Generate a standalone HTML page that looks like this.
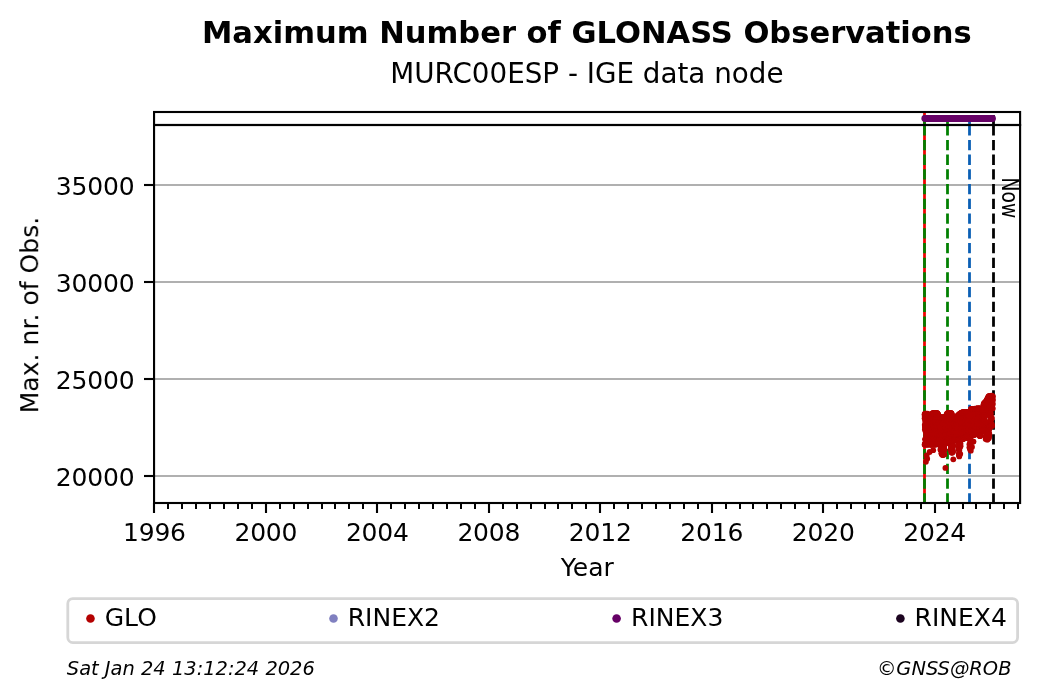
<!DOCTYPE html>
<html lang="en"><head><meta charset="utf-8"><title>Maximum Number of GLONASS Observations - MURC00ESP</title>
<style>html,body{margin:0;padding:0;background:#fff}body{width:1040px;height:699px;overflow:hidden}svg{display:block}text{font-family:"DejaVu Sans","Liberation Sans",sans-serif;fill:#000}.cond{font-family:"DejaVu Sans Condensed","DejaVu Sans","Liberation Sans",sans-serif;font-stretch:condensed}</style></head><body>
<svg width="1040" height="699" viewBox="0 0 1040 699">
<rect width="1040" height="699" fill="#fff"/>
<g opacity="0.999">
<text x="586.85" y="43.1" font-size="30.556" font-weight="bold" text-anchor="middle">Maximum Number of GLONASS Observations</text>
<text x="586.9" y="82.8" font-size="27.778" text-anchor="middle">MURC00ESP - IGE data node</text>
<g stroke="#b0b0b0" stroke-width="2.1">
<line x1="154.05" x2="1020.1" y1="476.00" y2="476.00"/>
<line x1="154.05" x2="1020.1" y1="379.00" y2="379.00"/>
<line x1="154.05" x2="1020.1" y1="282.00" y2="282.00"/>
<line x1="154.05" x2="1020.1" y1="185.00" y2="185.00"/>
</g>
<g fill="none" stroke-width="2.78">
<line x1="924.5" x2="924.5" y1="503.45" y2="125.0" stroke="#f00000"/>
<line x1="924.5" x2="924.5" y1="503.45" y2="125.0" stroke="#008000" stroke-dasharray="10.28 4.44"/>
<line x1="947.5" x2="947.5" y1="503.45" y2="125.0" stroke="#008000" stroke-dasharray="10.28 4.44"/>
<line x1="969.5" x2="969.5" y1="503.45" y2="125.0" stroke="#0a5fb4" stroke-dasharray="10.28 4.44"/>
<line x1="993.5" x2="993.5" y1="503.45" y2="125.0" stroke="#000" stroke-dasharray="10.28 4.44"/>
<line x1="924.5" x2="924.5" y1="125.0" y2="112.0" stroke="#f00000"/>
<line x1="924.5" x2="924.5" y1="125.0" y2="112.0" stroke="#008000" stroke-dasharray="9.9 4.44"/>
<line x1="947.5" x2="947.5" y1="125.0" y2="112.0" stroke="#008000" stroke-dasharray="9.9 4.44"/>
<line x1="969.5" x2="969.5" y1="125.0" y2="112.0" stroke="#0a5fb4" stroke-dasharray="9.9 4.44"/>
<line x1="993.5" x2="993.5" y1="125.0" y2="112.0" stroke="#000" stroke-dasharray="9.9 4.44"/>
</g>
<g fill="#b40000">
<circle cx="924.60" cy="418.35" r="2.9"/><circle cx="924.68" cy="415.90" r="2.9"/><circle cx="924.75" cy="424.99" r="2.9"/><circle cx="924.83" cy="429.38" r="2.9"/><circle cx="924.90" cy="427.08" r="2.9"/><circle cx="924.98" cy="416.42" r="2.9"/><circle cx="925.05" cy="439.28" r="2.9"/><circle cx="925.13" cy="420.53" r="2.9"/><circle cx="925.20" cy="443.03" r="2.9"/><circle cx="925.28" cy="425.92" r="2.9"/><circle cx="925.35" cy="415.05" r="2.9"/><circle cx="925.43" cy="422.59" r="2.9"/><circle cx="925.50" cy="417.26" r="2.9"/><circle cx="925.58" cy="438.94" r="2.9"/><circle cx="925.65" cy="431.66" r="2.9"/><circle cx="925.73" cy="425.16" r="2.9"/><circle cx="925.80" cy="415.55" r="2.9"/><circle cx="925.88" cy="419.99" r="2.9"/><circle cx="925.95" cy="426.88" r="2.9"/><circle cx="926.03" cy="431.78" r="2.9"/><circle cx="926.10" cy="422.91" r="2.9"/><circle cx="926.18" cy="435.30" r="2.9"/><circle cx="926.25" cy="431.43" r="2.9"/><circle cx="926.33" cy="440.77" r="2.9"/><circle cx="926.40" cy="422.54" r="2.9"/><circle cx="926.48" cy="417.26" r="2.9"/><circle cx="926.56" cy="437.10" r="2.9"/><circle cx="926.63" cy="428.78" r="2.9"/><circle cx="926.71" cy="434.34" r="2.9"/><circle cx="926.78" cy="431.39" r="2.9"/><circle cx="926.86" cy="423.34" r="2.9"/><circle cx="926.93" cy="432.05" r="2.9"/><circle cx="927.01" cy="427.76" r="2.9"/><circle cx="927.08" cy="442.92" r="2.9"/><circle cx="927.16" cy="434.21" r="2.9"/><circle cx="927.23" cy="435.37" r="2.9"/><circle cx="927.31" cy="444.42" r="2.9"/><circle cx="927.38" cy="422.43" r="2.9"/><circle cx="927.46" cy="434.35" r="2.9"/><circle cx="927.53" cy="427.95" r="2.9"/><circle cx="927.61" cy="417.35" r="2.9"/><circle cx="927.68" cy="437.49" r="2.9"/><circle cx="927.76" cy="421.52" r="2.9"/><circle cx="927.83" cy="440.69" r="2.9"/><circle cx="927.91" cy="427.81" r="2.9"/><circle cx="927.98" cy="441.07" r="2.9"/><circle cx="928.06" cy="440.49" r="2.9"/><circle cx="928.13" cy="426.93" r="2.9"/><circle cx="928.21" cy="441.13" r="2.9"/><circle cx="928.28" cy="419.08" r="2.9"/><circle cx="928.36" cy="421.59" r="2.9"/><circle cx="928.43" cy="429.22" r="2.9"/><circle cx="928.51" cy="422.64" r="2.9"/><circle cx="928.59" cy="427.35" r="2.9"/><circle cx="928.66" cy="431.77" r="2.9"/><circle cx="928.74" cy="435.47" r="2.9"/><circle cx="928.81" cy="433.35" r="2.9"/><circle cx="928.89" cy="416.85" r="2.9"/><circle cx="928.96" cy="438.17" r="2.9"/><circle cx="929.04" cy="438.71" r="2.9"/><circle cx="929.11" cy="427.05" r="2.9"/><circle cx="929.19" cy="433.93" r="2.9"/><circle cx="929.26" cy="417.37" r="2.9"/><circle cx="929.34" cy="420.14" r="2.9"/><circle cx="929.41" cy="416.94" r="2.9"/><circle cx="929.49" cy="419.82" r="2.9"/><circle cx="929.56" cy="426.02" r="2.9"/><circle cx="929.64" cy="440.93" r="2.9"/><circle cx="929.71" cy="419.74" r="2.9"/><circle cx="929.79" cy="425.54" r="2.9"/><circle cx="929.86" cy="418.99" r="2.9"/><circle cx="929.94" cy="444.40" r="2.9"/><circle cx="930.01" cy="429.53" r="2.9"/><circle cx="930.09" cy="418.38" r="2.9"/><circle cx="930.16" cy="423.13" r="2.9"/><circle cx="930.24" cy="420.11" r="2.9"/><circle cx="930.31" cy="443.16" r="2.9"/><circle cx="930.39" cy="419.68" r="2.9"/><circle cx="930.47" cy="416.19" r="2.9"/><circle cx="930.54" cy="443.96" r="2.9"/><circle cx="930.62" cy="435.72" r="2.9"/><circle cx="930.69" cy="426.10" r="2.9"/><circle cx="930.77" cy="437.93" r="2.9"/><circle cx="930.84" cy="438.14" r="2.9"/><circle cx="930.92" cy="421.91" r="2.9"/><circle cx="930.99" cy="444.15" r="2.9"/><circle cx="931.07" cy="438.90" r="2.9"/><circle cx="931.14" cy="436.93" r="2.9"/><circle cx="931.22" cy="430.34" r="2.9"/><circle cx="931.29" cy="415.79" r="2.9"/><circle cx="931.37" cy="423.13" r="2.9"/><circle cx="931.44" cy="435.39" r="2.9"/><circle cx="931.52" cy="427.99" r="2.9"/><circle cx="931.59" cy="444.22" r="2.9"/><circle cx="931.67" cy="425.36" r="2.9"/><circle cx="931.74" cy="421.10" r="2.9"/><circle cx="931.82" cy="420.32" r="2.9"/><circle cx="931.89" cy="441.52" r="2.9"/><circle cx="931.97" cy="428.58" r="2.9"/><circle cx="932.04" cy="438.39" r="2.9"/><circle cx="932.12" cy="434.06" r="2.9"/><circle cx="932.19" cy="437.80" r="2.9"/><circle cx="932.27" cy="428.28" r="2.9"/><circle cx="932.35" cy="437.96" r="2.9"/><circle cx="932.42" cy="438.31" r="2.9"/><circle cx="932.50" cy="425.50" r="2.9"/><circle cx="932.57" cy="442.89" r="2.9"/><circle cx="932.65" cy="418.37" r="2.9"/><circle cx="932.72" cy="417.77" r="2.9"/><circle cx="932.80" cy="438.46" r="2.9"/><circle cx="932.87" cy="439.09" r="2.9"/><circle cx="932.95" cy="433.74" r="2.9"/><circle cx="933.02" cy="430.32" r="2.9"/><circle cx="933.10" cy="413.45" r="2.9"/><circle cx="933.17" cy="433.50" r="2.9"/><circle cx="933.25" cy="442.46" r="2.9"/><circle cx="933.32" cy="440.51" r="2.9"/><circle cx="933.40" cy="419.66" r="2.9"/><circle cx="933.47" cy="422.24" r="2.9"/><circle cx="933.55" cy="431.50" r="2.9"/><circle cx="933.62" cy="426.22" r="2.9"/><circle cx="933.70" cy="441.71" r="2.9"/><circle cx="933.77" cy="427.46" r="2.9"/><circle cx="933.85" cy="441.53" r="2.9"/><circle cx="933.92" cy="441.95" r="2.9"/><circle cx="934.00" cy="429.78" r="2.9"/><circle cx="934.07" cy="413.59" r="2.9"/><circle cx="934.15" cy="418.78" r="2.9"/><circle cx="934.22" cy="438.21" r="2.9"/><circle cx="934.30" cy="427.94" r="2.9"/><circle cx="934.38" cy="430.55" r="2.9"/><circle cx="934.45" cy="429.35" r="2.9"/><circle cx="934.53" cy="437.74" r="2.9"/><circle cx="934.60" cy="430.67" r="2.9"/><circle cx="934.68" cy="421.73" r="2.9"/><circle cx="934.75" cy="429.01" r="2.9"/><circle cx="934.83" cy="436.97" r="2.9"/><circle cx="934.90" cy="426.98" r="2.9"/><circle cx="934.98" cy="428.94" r="2.9"/><circle cx="935.05" cy="434.85" r="2.9"/><circle cx="935.13" cy="429.82" r="2.9"/><circle cx="935.20" cy="442.69" r="2.9"/><circle cx="935.28" cy="440.64" r="2.9"/><circle cx="935.35" cy="421.19" r="2.9"/><circle cx="935.43" cy="442.74" r="2.9"/><circle cx="935.50" cy="417.32" r="2.9"/><circle cx="935.58" cy="426.94" r="2.9"/><circle cx="935.65" cy="420.59" r="2.9"/><circle cx="935.73" cy="434.11" r="2.9"/><circle cx="935.80" cy="441.28" r="2.9"/><circle cx="935.88" cy="435.58" r="2.9"/><circle cx="935.95" cy="417.51" r="2.9"/><circle cx="936.03" cy="443.50" r="2.9"/><circle cx="936.10" cy="443.03" r="2.9"/><circle cx="936.18" cy="428.36" r="2.9"/><circle cx="936.26" cy="439.24" r="2.9"/><circle cx="936.33" cy="426.60" r="2.9"/><circle cx="936.41" cy="423.69" r="2.9"/><circle cx="936.48" cy="423.04" r="2.9"/><circle cx="936.56" cy="413.61" r="2.9"/><circle cx="936.63" cy="426.88" r="2.9"/><circle cx="936.71" cy="423.45" r="2.9"/><circle cx="936.78" cy="429.14" r="2.9"/><circle cx="936.86" cy="444.04" r="2.9"/><circle cx="936.93" cy="443.62" r="2.9"/><circle cx="937.01" cy="421.37" r="2.9"/><circle cx="937.08" cy="437.55" r="2.9"/><circle cx="937.16" cy="417.08" r="2.9"/><circle cx="937.23" cy="441.72" r="2.9"/><circle cx="937.31" cy="421.15" r="2.9"/><circle cx="937.38" cy="441.96" r="2.9"/><circle cx="937.46" cy="435.07" r="2.9"/><circle cx="937.53" cy="414.89" r="2.9"/><circle cx="937.61" cy="426.55" r="2.9"/><circle cx="937.68" cy="442.59" r="2.9"/><circle cx="937.76" cy="438.37" r="2.9"/><circle cx="937.83" cy="440.09" r="2.9"/><circle cx="937.91" cy="440.31" r="2.9"/><circle cx="937.98" cy="424.43" r="2.9"/><circle cx="938.06" cy="442.28" r="2.9"/><circle cx="938.14" cy="418.36" r="2.9"/><circle cx="938.21" cy="421.76" r="2.9"/><circle cx="938.29" cy="419.61" r="2.9"/><circle cx="938.36" cy="420.95" r="2.9"/><circle cx="938.44" cy="424.10" r="2.9"/><circle cx="938.51" cy="423.78" r="2.9"/><circle cx="938.59" cy="420.67" r="2.9"/><circle cx="938.66" cy="416.23" r="2.9"/><circle cx="938.74" cy="416.32" r="2.9"/><circle cx="938.81" cy="431.65" r="2.9"/><circle cx="938.89" cy="429.58" r="2.9"/><circle cx="938.96" cy="419.38" r="2.9"/><circle cx="939.04" cy="428.57" r="2.9"/><circle cx="939.11" cy="439.75" r="2.9"/><circle cx="939.19" cy="430.80" r="2.9"/><circle cx="939.26" cy="443.80" r="2.9"/><circle cx="939.34" cy="439.73" r="2.9"/><circle cx="939.41" cy="434.40" r="2.9"/><circle cx="939.49" cy="426.60" r="2.9"/><circle cx="939.56" cy="420.71" r="2.9"/><circle cx="939.64" cy="437.21" r="2.9"/><circle cx="939.71" cy="421.61" r="2.9"/><circle cx="939.79" cy="439.90" r="2.9"/><circle cx="939.86" cy="435.29" r="2.9"/><circle cx="939.94" cy="423.73" r="2.9"/><circle cx="940.01" cy="429.58" r="2.9"/><circle cx="940.09" cy="429.21" r="2.9"/><circle cx="940.17" cy="443.09" r="2.9"/><circle cx="940.24" cy="431.92" r="2.9"/><circle cx="940.32" cy="443.17" r="2.9"/><circle cx="940.39" cy="426.79" r="2.9"/><circle cx="940.47" cy="427.45" r="2.9"/><circle cx="940.54" cy="449.66" r="2.9"/><circle cx="940.62" cy="449.67" r="2.9"/><circle cx="940.69" cy="446.98" r="2.9"/><circle cx="940.77" cy="448.48" r="2.9"/><circle cx="940.84" cy="444.25" r="2.9"/><circle cx="940.92" cy="446.60" r="2.9"/><circle cx="940.99" cy="449.92" r="2.9"/><circle cx="941.07" cy="434.80" r="2.9"/><circle cx="941.14" cy="440.72" r="2.9"/><circle cx="941.22" cy="447.61" r="2.9"/><circle cx="941.29" cy="421.19" r="2.9"/><circle cx="941.37" cy="434.38" r="2.9"/><circle cx="941.44" cy="453.34" r="2.9"/><circle cx="941.52" cy="433.94" r="2.9"/><circle cx="941.59" cy="438.86" r="2.9"/><circle cx="941.67" cy="449.80" r="2.9"/><circle cx="941.74" cy="453.33" r="2.9"/><circle cx="941.82" cy="439.21" r="2.9"/><circle cx="941.89" cy="453.98" r="2.9"/><circle cx="941.97" cy="435.65" r="2.9"/><circle cx="942.05" cy="444.15" r="2.9"/><circle cx="942.12" cy="447.90" r="2.9"/><circle cx="942.20" cy="453.32" r="2.9"/><circle cx="942.27" cy="450.94" r="2.9"/><circle cx="942.35" cy="435.26" r="2.9"/><circle cx="942.42" cy="443.76" r="2.9"/><circle cx="942.50" cy="437.04" r="2.9"/><circle cx="942.57" cy="449.85" r="2.9"/><circle cx="942.65" cy="418.95" r="2.9"/><circle cx="942.72" cy="423.88" r="2.9"/><circle cx="942.80" cy="446.72" r="2.9"/><circle cx="942.87" cy="422.63" r="2.9"/><circle cx="942.95" cy="442.99" r="2.9"/><circle cx="943.02" cy="448.05" r="2.9"/><circle cx="943.10" cy="451.53" r="2.9"/><circle cx="943.17" cy="433.48" r="2.9"/><circle cx="943.25" cy="419.24" r="2.9"/><circle cx="943.32" cy="446.52" r="2.9"/><circle cx="943.40" cy="425.22" r="2.9"/><circle cx="943.47" cy="443.69" r="2.9"/><circle cx="943.55" cy="446.67" r="2.9"/><circle cx="943.62" cy="435.42" r="2.9"/><circle cx="943.70" cy="424.85" r="2.9"/><circle cx="943.77" cy="448.93" r="2.9"/><circle cx="943.85" cy="444.87" r="2.9"/><circle cx="943.93" cy="422.43" r="2.9"/><circle cx="944.00" cy="441.78" r="2.9"/><circle cx="944.08" cy="448.84" r="2.9"/><circle cx="944.15" cy="442.59" r="2.9"/><circle cx="944.23" cy="446.58" r="2.9"/><circle cx="944.30" cy="454.56" r="2.9"/><circle cx="944.38" cy="450.25" r="2.9"/><circle cx="944.45" cy="449.57" r="2.9"/><circle cx="944.53" cy="420.67" r="2.9"/><circle cx="944.60" cy="430.50" r="2.9"/><circle cx="944.68" cy="435.58" r="2.9"/><circle cx="944.75" cy="440.65" r="2.9"/><circle cx="944.83" cy="417.85" r="2.9"/><circle cx="944.90" cy="430.03" r="2.9"/><circle cx="944.98" cy="425.07" r="2.9"/><circle cx="945.05" cy="426.17" r="2.9"/><circle cx="945.13" cy="439.09" r="2.9"/><circle cx="945.20" cy="436.75" r="2.9"/><circle cx="945.28" cy="420.32" r="2.9"/><circle cx="945.35" cy="435.75" r="2.9"/><circle cx="945.43" cy="424.69" r="2.9"/><circle cx="945.50" cy="427.26" r="2.9"/><circle cx="945.58" cy="432.33" r="2.9"/><circle cx="945.65" cy="427.96" r="2.9"/><circle cx="945.73" cy="417.70" r="2.9"/><circle cx="945.80" cy="438.69" r="2.9"/><circle cx="945.88" cy="441.38" r="2.9"/><circle cx="945.96" cy="423.11" r="2.9"/><circle cx="946.03" cy="420.90" r="2.9"/><circle cx="946.11" cy="441.86" r="2.9"/><circle cx="946.18" cy="437.84" r="2.9"/><circle cx="946.26" cy="440.62" r="2.9"/><circle cx="946.33" cy="430.37" r="2.9"/><circle cx="946.41" cy="416.19" r="2.9"/><circle cx="946.48" cy="427.40" r="2.9"/><circle cx="946.56" cy="432.81" r="2.9"/><circle cx="946.63" cy="415.66" r="2.9"/><circle cx="946.71" cy="417.75" r="2.9"/><circle cx="946.78" cy="423.86" r="2.9"/><circle cx="946.86" cy="435.26" r="2.9"/><circle cx="946.93" cy="421.16" r="2.9"/><circle cx="947.01" cy="422.22" r="2.9"/><circle cx="947.08" cy="424.86" r="2.9"/><circle cx="947.16" cy="417.81" r="2.9"/><circle cx="947.23" cy="439.95" r="2.9"/><circle cx="947.31" cy="419.46" r="2.9"/><circle cx="947.38" cy="442.61" r="2.9"/><circle cx="947.46" cy="417.06" r="2.9"/><circle cx="947.53" cy="415.60" r="2.9"/><circle cx="947.61" cy="415.61" r="2.9"/><circle cx="947.68" cy="420.58" r="2.9"/><circle cx="947.76" cy="439.26" r="2.9"/><circle cx="947.84" cy="425.16" r="2.9"/><circle cx="947.91" cy="428.45" r="2.9"/><circle cx="947.99" cy="422.93" r="2.9"/><circle cx="948.06" cy="421.12" r="2.9"/><circle cx="948.14" cy="416.63" r="2.9"/><circle cx="948.21" cy="431.53" r="2.9"/><circle cx="948.29" cy="419.28" r="2.9"/><circle cx="948.36" cy="420.24" r="2.9"/><circle cx="948.44" cy="426.06" r="2.9"/><circle cx="948.51" cy="437.94" r="2.9"/><circle cx="948.59" cy="413.54" r="2.9"/><circle cx="948.66" cy="433.80" r="2.9"/><circle cx="948.74" cy="426.83" r="2.9"/><circle cx="948.81" cy="412.91" r="2.9"/><circle cx="948.89" cy="440.15" r="2.9"/><circle cx="948.96" cy="438.03" r="2.9"/><circle cx="949.04" cy="420.19" r="2.9"/><circle cx="949.11" cy="417.43" r="2.9"/><circle cx="949.19" cy="432.89" r="2.9"/><circle cx="949.26" cy="434.04" r="2.9"/><circle cx="949.34" cy="435.29" r="2.9"/><circle cx="949.41" cy="429.03" r="2.9"/><circle cx="949.49" cy="435.77" r="2.9"/><circle cx="949.56" cy="439.77" r="2.9"/><circle cx="949.64" cy="421.77" r="2.9"/><circle cx="949.72" cy="420.24" r="2.9"/><circle cx="949.79" cy="433.26" r="2.9"/><circle cx="949.87" cy="414.95" r="2.9"/><circle cx="949.94" cy="429.87" r="2.9"/><circle cx="950.02" cy="419.40" r="2.9"/><circle cx="950.09" cy="413.20" r="2.9"/><circle cx="950.17" cy="426.28" r="2.9"/><circle cx="950.24" cy="431.61" r="2.9"/><circle cx="950.32" cy="426.68" r="2.9"/><circle cx="950.39" cy="444.58" r="2.9"/><circle cx="950.47" cy="433.31" r="2.9"/><circle cx="950.54" cy="442.08" r="2.9"/><circle cx="950.62" cy="449.22" r="2.9"/><circle cx="950.69" cy="444.63" r="2.9"/><circle cx="950.77" cy="439.61" r="2.9"/><circle cx="950.84" cy="442.13" r="2.9"/><circle cx="950.92" cy="446.39" r="2.9"/><circle cx="950.99" cy="418.61" r="2.9"/><circle cx="951.07" cy="434.18" r="2.9"/><circle cx="951.14" cy="443.96" r="2.9"/><circle cx="951.22" cy="421.86" r="2.9"/><circle cx="951.29" cy="419.53" r="2.9"/><circle cx="951.37" cy="450.12" r="2.9"/><circle cx="951.44" cy="452.26" r="2.9"/><circle cx="951.52" cy="443.67" r="2.9"/><circle cx="951.59" cy="446.24" r="2.9"/><circle cx="951.67" cy="440.09" r="2.9"/><circle cx="951.75" cy="445.95" r="2.9"/><circle cx="951.82" cy="452.51" r="2.9"/><circle cx="951.90" cy="442.05" r="2.9"/><circle cx="951.97" cy="445.91" r="2.9"/><circle cx="952.05" cy="438.37" r="2.9"/><circle cx="952.12" cy="441.34" r="2.9"/><circle cx="952.20" cy="424.22" r="2.9"/><circle cx="952.27" cy="452.07" r="2.9"/><circle cx="952.35" cy="417.22" r="2.9"/><circle cx="952.42" cy="426.05" r="2.9"/><circle cx="952.50" cy="445.11" r="2.9"/><circle cx="952.57" cy="441.31" r="2.9"/><circle cx="952.65" cy="445.31" r="2.9"/><circle cx="952.72" cy="420.79" r="2.9"/><circle cx="952.80" cy="422.73" r="2.9"/><circle cx="952.87" cy="450.73" r="2.9"/><circle cx="952.95" cy="427.96" r="2.9"/><circle cx="953.02" cy="446.67" r="2.9"/><circle cx="953.10" cy="451.86" r="2.9"/><circle cx="953.17" cy="445.37" r="2.9"/><circle cx="953.25" cy="418.60" r="2.9"/><circle cx="953.32" cy="436.71" r="2.9"/><circle cx="953.40" cy="418.84" r="2.9"/><circle cx="953.47" cy="419.35" r="2.9"/><circle cx="953.55" cy="423.84" r="2.9"/><circle cx="953.63" cy="438.64" r="2.9"/><circle cx="953.70" cy="424.18" r="2.9"/><circle cx="953.78" cy="432.12" r="2.9"/><circle cx="953.85" cy="434.40" r="2.9"/><circle cx="953.93" cy="424.24" r="2.9"/><circle cx="954.00" cy="435.26" r="2.9"/><circle cx="954.08" cy="432.45" r="2.9"/><circle cx="954.15" cy="418.46" r="2.9"/><circle cx="954.23" cy="428.79" r="2.9"/><circle cx="954.30" cy="439.74" r="2.9"/><circle cx="954.38" cy="423.64" r="2.9"/><circle cx="954.45" cy="429.18" r="2.9"/><circle cx="954.53" cy="422.08" r="2.9"/><circle cx="954.60" cy="434.75" r="2.9"/><circle cx="954.68" cy="435.51" r="2.9"/><circle cx="954.75" cy="425.36" r="2.9"/><circle cx="954.83" cy="426.13" r="2.9"/><circle cx="954.90" cy="419.70" r="2.9"/><circle cx="954.98" cy="434.99" r="2.9"/><circle cx="955.05" cy="419.37" r="2.9"/><circle cx="955.13" cy="430.43" r="2.9"/><circle cx="955.20" cy="440.11" r="2.9"/><circle cx="955.28" cy="440.27" r="2.9"/><circle cx="955.35" cy="419.80" r="2.9"/><circle cx="955.43" cy="429.18" r="2.9"/><circle cx="955.51" cy="428.00" r="2.9"/><circle cx="955.58" cy="427.32" r="2.9"/><circle cx="955.66" cy="433.12" r="2.9"/><circle cx="955.73" cy="437.01" r="2.9"/><circle cx="955.81" cy="420.63" r="2.9"/><circle cx="955.88" cy="424.52" r="2.9"/><circle cx="955.96" cy="426.30" r="2.9"/><circle cx="956.03" cy="422.38" r="2.9"/><circle cx="956.11" cy="423.42" r="2.9"/><circle cx="956.18" cy="437.77" r="2.9"/><circle cx="956.26" cy="425.23" r="2.9"/><circle cx="956.33" cy="440.18" r="2.9"/><circle cx="956.41" cy="423.08" r="2.9"/><circle cx="956.48" cy="432.49" r="2.9"/><circle cx="956.56" cy="419.90" r="2.9"/><circle cx="956.63" cy="436.16" r="2.9"/><circle cx="956.71" cy="438.31" r="2.9"/><circle cx="956.78" cy="423.90" r="2.9"/><circle cx="956.86" cy="421.36" r="2.9"/><circle cx="956.93" cy="430.46" r="2.9"/><circle cx="957.01" cy="425.41" r="2.9"/><circle cx="957.08" cy="427.13" r="2.9"/><circle cx="957.16" cy="434.89" r="2.9"/><circle cx="957.23" cy="418.70" r="2.9"/><circle cx="957.31" cy="430.98" r="2.9"/><circle cx="957.38" cy="424.81" r="2.9"/><circle cx="957.46" cy="420.68" r="2.9"/><circle cx="957.54" cy="430.27" r="2.9"/><circle cx="957.61" cy="420.42" r="2.9"/><circle cx="957.69" cy="423.44" r="2.9"/><circle cx="957.76" cy="419.87" r="2.9"/><circle cx="957.84" cy="420.27" r="2.9"/><circle cx="957.91" cy="428.80" r="2.9"/><circle cx="957.99" cy="417.63" r="2.9"/><circle cx="958.06" cy="428.79" r="2.9"/><circle cx="958.14" cy="417.26" r="2.9"/><circle cx="958.21" cy="432.36" r="2.9"/><circle cx="958.29" cy="421.98" r="2.9"/><circle cx="958.36" cy="438.79" r="2.9"/><circle cx="958.44" cy="449.27" r="2.9"/><circle cx="958.51" cy="446.80" r="2.9"/><circle cx="958.59" cy="439.84" r="2.9"/><circle cx="958.66" cy="443.16" r="2.9"/><circle cx="958.74" cy="419.68" r="2.9"/><circle cx="958.81" cy="454.78" r="2.9"/><circle cx="958.89" cy="453.43" r="2.9"/><circle cx="958.96" cy="454.46" r="2.9"/><circle cx="959.04" cy="442.53" r="2.9"/><circle cx="959.11" cy="448.97" r="2.9"/><circle cx="959.19" cy="437.50" r="2.9"/><circle cx="959.26" cy="450.13" r="2.9"/><circle cx="959.34" cy="448.17" r="2.9"/><circle cx="959.42" cy="444.48" r="2.9"/><circle cx="959.49" cy="455.16" r="2.9"/><circle cx="959.57" cy="447.91" r="2.9"/><circle cx="959.64" cy="438.87" r="2.9"/><circle cx="959.72" cy="441.83" r="2.9"/><circle cx="959.79" cy="439.07" r="2.9"/><circle cx="959.87" cy="440.58" r="2.9"/><circle cx="959.94" cy="423.70" r="2.9"/><circle cx="960.02" cy="429.73" r="2.9"/><circle cx="960.09" cy="417.65" r="2.9"/><circle cx="960.17" cy="419.22" r="2.9"/><circle cx="960.24" cy="453.82" r="2.9"/><circle cx="960.32" cy="418.10" r="2.9"/><circle cx="960.39" cy="446.31" r="2.9"/><circle cx="960.47" cy="446.03" r="2.9"/><circle cx="960.54" cy="443.72" r="2.9"/><circle cx="960.62" cy="436.82" r="2.9"/><circle cx="960.69" cy="427.91" r="2.9"/><circle cx="960.77" cy="413.94" r="2.9"/><circle cx="960.84" cy="416.00" r="2.9"/><circle cx="960.92" cy="427.49" r="2.9"/><circle cx="960.99" cy="420.93" r="2.9"/><circle cx="961.07" cy="428.29" r="2.9"/><circle cx="961.14" cy="430.30" r="2.9"/><circle cx="961.22" cy="424.35" r="2.9"/><circle cx="961.29" cy="429.17" r="2.9"/><circle cx="961.37" cy="418.80" r="2.9"/><circle cx="961.45" cy="433.45" r="2.9"/><circle cx="961.52" cy="417.20" r="2.9"/><circle cx="961.60" cy="415.18" r="2.9"/><circle cx="961.67" cy="423.90" r="2.9"/><circle cx="961.75" cy="424.19" r="2.9"/><circle cx="961.82" cy="413.29" r="2.9"/><circle cx="961.90" cy="414.41" r="2.9"/><circle cx="961.97" cy="433.26" r="2.9"/><circle cx="962.05" cy="413.63" r="2.9"/><circle cx="962.12" cy="422.40" r="2.9"/><circle cx="962.20" cy="415.84" r="2.9"/><circle cx="962.27" cy="439.13" r="2.9"/><circle cx="962.35" cy="434.21" r="2.9"/><circle cx="962.42" cy="438.71" r="2.9"/><circle cx="962.50" cy="438.02" r="2.9"/><circle cx="962.57" cy="416.58" r="2.9"/><circle cx="962.65" cy="437.29" r="2.9"/><circle cx="962.72" cy="421.58" r="2.9"/><circle cx="962.80" cy="416.38" r="2.9"/><circle cx="962.87" cy="419.51" r="2.9"/><circle cx="962.95" cy="415.95" r="2.9"/><circle cx="963.02" cy="436.92" r="2.9"/><circle cx="963.10" cy="419.15" r="2.9"/><circle cx="963.17" cy="420.65" r="2.9"/><circle cx="963.25" cy="416.94" r="2.9"/><circle cx="963.33" cy="437.26" r="2.9"/><circle cx="963.40" cy="436.12" r="2.9"/><circle cx="963.48" cy="433.12" r="2.9"/><circle cx="963.55" cy="426.26" r="2.9"/><circle cx="963.63" cy="421.65" r="2.9"/><circle cx="963.70" cy="426.88" r="2.9"/><circle cx="963.78" cy="435.64" r="2.9"/><circle cx="963.85" cy="438.57" r="2.9"/><circle cx="963.93" cy="422.51" r="2.9"/><circle cx="964.00" cy="419.03" r="2.9"/><circle cx="964.08" cy="427.37" r="2.9"/><circle cx="964.15" cy="432.35" r="2.9"/><circle cx="964.23" cy="416.64" r="2.9"/><circle cx="964.30" cy="413.20" r="2.9"/><circle cx="964.38" cy="418.67" r="2.9"/><circle cx="964.45" cy="438.09" r="2.9"/><circle cx="964.53" cy="429.54" r="2.9"/><circle cx="964.60" cy="411.93" r="2.9"/><circle cx="964.68" cy="415.84" r="2.9"/><circle cx="964.75" cy="423.33" r="2.9"/><circle cx="964.83" cy="435.60" r="2.9"/><circle cx="964.90" cy="417.87" r="2.9"/><circle cx="964.98" cy="412.43" r="2.9"/><circle cx="965.05" cy="421.22" r="2.9"/><circle cx="965.13" cy="421.26" r="2.9"/><circle cx="965.21" cy="427.22" r="2.9"/><circle cx="965.28" cy="417.20" r="2.9"/><circle cx="965.36" cy="424.32" r="2.9"/><circle cx="965.43" cy="436.46" r="2.9"/><circle cx="965.51" cy="415.71" r="2.9"/><circle cx="965.58" cy="428.56" r="2.9"/><circle cx="965.66" cy="432.31" r="2.9"/><circle cx="965.73" cy="418.70" r="2.9"/><circle cx="965.81" cy="428.67" r="2.9"/><circle cx="965.88" cy="420.92" r="2.9"/><circle cx="965.96" cy="423.35" r="2.9"/><circle cx="966.03" cy="430.92" r="2.9"/><circle cx="966.11" cy="435.33" r="2.9"/><circle cx="966.18" cy="425.59" r="2.9"/><circle cx="966.26" cy="417.90" r="2.9"/><circle cx="966.33" cy="432.00" r="2.9"/><circle cx="966.41" cy="426.04" r="2.9"/><circle cx="966.48" cy="415.38" r="2.9"/><circle cx="966.56" cy="427.48" r="2.9"/><circle cx="966.63" cy="428.33" r="2.9"/><circle cx="966.71" cy="416.19" r="2.9"/><circle cx="966.78" cy="419.43" r="2.9"/><circle cx="966.86" cy="434.69" r="2.9"/><circle cx="966.93" cy="430.16" r="2.9"/><circle cx="967.01" cy="433.47" r="2.9"/><circle cx="967.08" cy="423.64" r="2.9"/><circle cx="967.16" cy="423.29" r="2.9"/><circle cx="967.24" cy="414.51" r="2.9"/><circle cx="967.31" cy="413.26" r="2.9"/><circle cx="967.39" cy="431.19" r="2.9"/><circle cx="967.46" cy="433.59" r="2.9"/><circle cx="967.54" cy="419.95" r="2.9"/><circle cx="967.61" cy="424.22" r="2.9"/><circle cx="967.69" cy="426.44" r="2.9"/><circle cx="967.76" cy="429.27" r="2.9"/><circle cx="967.84" cy="420.04" r="2.9"/><circle cx="967.91" cy="415.63" r="2.9"/><circle cx="967.99" cy="420.45" r="2.9"/><circle cx="968.06" cy="435.87" r="2.9"/><circle cx="968.14" cy="422.41" r="2.9"/><circle cx="968.21" cy="422.44" r="2.9"/><circle cx="968.29" cy="434.99" r="2.9"/><circle cx="968.36" cy="430.31" r="2.9"/><circle cx="968.44" cy="436.49" r="2.9"/><circle cx="968.51" cy="433.45" r="2.9"/><circle cx="968.59" cy="433.81" r="2.9"/><circle cx="968.66" cy="430.92" r="2.9"/><circle cx="968.74" cy="421.93" r="2.9"/><circle cx="968.81" cy="428.69" r="2.9"/><circle cx="968.89" cy="434.87" r="2.9"/><circle cx="968.96" cy="415.88" r="2.9"/><circle cx="969.04" cy="435.21" r="2.9"/><circle cx="969.12" cy="418.34" r="2.9"/><circle cx="969.19" cy="416.19" r="2.9"/><circle cx="969.27" cy="428.83" r="2.9"/><circle cx="969.34" cy="431.01" r="2.9"/><circle cx="969.42" cy="444.27" r="2.9"/><circle cx="969.49" cy="447.22" r="2.9"/><circle cx="969.57" cy="434.23" r="2.9"/><circle cx="969.64" cy="447.87" r="2.9"/><circle cx="969.72" cy="435.31" r="2.9"/><circle cx="969.79" cy="439.16" r="2.9"/><circle cx="969.87" cy="436.89" r="2.9"/><circle cx="969.94" cy="432.44" r="2.9"/><circle cx="970.02" cy="432.69" r="2.9"/><circle cx="970.09" cy="421.35" r="2.9"/><circle cx="970.17" cy="437.62" r="2.9"/><circle cx="970.24" cy="419.24" r="2.9"/><circle cx="970.32" cy="441.92" r="2.9"/><circle cx="970.39" cy="439.67" r="2.9"/><circle cx="970.47" cy="445.80" r="2.9"/><circle cx="970.54" cy="440.49" r="2.9"/><circle cx="970.62" cy="423.59" r="2.9"/><circle cx="970.69" cy="426.17" r="2.9"/><circle cx="970.77" cy="441.68" r="2.9"/><circle cx="970.84" cy="446.53" r="2.9"/><circle cx="970.92" cy="428.03" r="2.9"/><circle cx="971.00" cy="414.76" r="2.9"/><circle cx="971.07" cy="411.34" r="2.9"/><circle cx="971.15" cy="413.49" r="2.9"/><circle cx="971.22" cy="414.34" r="2.9"/><circle cx="971.30" cy="435.32" r="2.9"/><circle cx="971.37" cy="422.13" r="2.9"/><circle cx="971.45" cy="430.38" r="2.9"/><circle cx="971.52" cy="422.20" r="2.9"/><circle cx="971.60" cy="431.28" r="2.9"/><circle cx="971.67" cy="434.28" r="2.9"/><circle cx="971.75" cy="414.61" r="2.9"/><circle cx="971.82" cy="422.23" r="2.9"/><circle cx="971.90" cy="425.93" r="2.9"/><circle cx="971.97" cy="429.98" r="2.9"/><circle cx="972.05" cy="429.93" r="2.9"/><circle cx="972.12" cy="418.33" r="2.9"/><circle cx="972.20" cy="419.37" r="2.9"/><circle cx="972.27" cy="411.09" r="2.9"/><circle cx="972.35" cy="409.45" r="2.9"/><circle cx="972.42" cy="415.81" r="2.9"/><circle cx="972.50" cy="422.16" r="2.9"/><circle cx="972.57" cy="432.37" r="2.9"/><circle cx="972.65" cy="421.05" r="2.9"/><circle cx="972.72" cy="428.86" r="2.9"/><circle cx="972.80" cy="425.96" r="2.9"/><circle cx="972.87" cy="417.43" r="2.9"/><circle cx="972.95" cy="431.16" r="2.9"/><circle cx="973.03" cy="428.44" r="2.9"/><circle cx="973.10" cy="420.37" r="2.9"/><circle cx="973.18" cy="424.08" r="2.9"/><circle cx="973.25" cy="420.95" r="2.9"/><circle cx="973.33" cy="415.00" r="2.9"/><circle cx="973.40" cy="416.67" r="2.9"/><circle cx="973.48" cy="431.01" r="2.9"/><circle cx="973.55" cy="412.80" r="2.9"/><circle cx="973.63" cy="417.30" r="2.9"/><circle cx="973.70" cy="412.91" r="2.9"/><circle cx="973.78" cy="413.65" r="2.9"/><circle cx="973.85" cy="427.86" r="2.9"/><circle cx="973.93" cy="433.99" r="2.9"/><circle cx="974.00" cy="418.75" r="2.9"/><circle cx="974.08" cy="429.53" r="2.9"/><circle cx="974.15" cy="420.05" r="2.9"/><circle cx="974.23" cy="425.37" r="2.9"/><circle cx="974.30" cy="414.03" r="2.9"/><circle cx="974.38" cy="409.49" r="2.9"/><circle cx="974.45" cy="429.32" r="2.9"/><circle cx="974.53" cy="421.69" r="2.9"/><circle cx="974.60" cy="420.70" r="2.9"/><circle cx="974.68" cy="424.36" r="2.9"/><circle cx="974.75" cy="427.92" r="2.9"/><circle cx="974.83" cy="419.79" r="2.9"/><circle cx="974.91" cy="428.09" r="2.9"/><circle cx="974.98" cy="414.51" r="2.9"/><circle cx="975.06" cy="431.45" r="2.9"/><circle cx="975.13" cy="426.74" r="2.9"/><circle cx="975.21" cy="426.19" r="2.9"/><circle cx="975.28" cy="420.31" r="2.9"/><circle cx="975.36" cy="424.81" r="2.9"/><circle cx="975.43" cy="419.38" r="2.9"/><circle cx="975.51" cy="426.96" r="2.9"/><circle cx="975.58" cy="414.97" r="2.9"/><circle cx="975.66" cy="420.25" r="2.9"/><circle cx="975.73" cy="419.05" r="2.9"/><circle cx="975.81" cy="432.45" r="2.9"/><circle cx="975.88" cy="425.32" r="2.9"/><circle cx="975.96" cy="418.47" r="2.9"/><circle cx="976.03" cy="433.50" r="2.9"/><circle cx="976.11" cy="422.40" r="2.9"/><circle cx="976.18" cy="428.49" r="2.9"/><circle cx="976.26" cy="421.74" r="2.9"/><circle cx="976.33" cy="423.14" r="2.9"/><circle cx="976.41" cy="426.76" r="2.9"/><circle cx="976.48" cy="424.74" r="2.9"/><circle cx="976.56" cy="421.72" r="2.9"/><circle cx="976.63" cy="432.56" r="2.9"/><circle cx="976.71" cy="425.82" r="2.9"/><circle cx="976.79" cy="427.79" r="2.9"/><circle cx="976.86" cy="433.39" r="2.9"/><circle cx="976.94" cy="409.83" r="2.9"/><circle cx="977.01" cy="418.51" r="2.9"/><circle cx="977.09" cy="418.97" r="2.9"/><circle cx="977.16" cy="426.03" r="2.9"/><circle cx="977.24" cy="415.07" r="2.9"/><circle cx="977.31" cy="427.07" r="2.9"/><circle cx="977.39" cy="421.64" r="2.9"/><circle cx="977.46" cy="428.53" r="2.9"/><circle cx="977.54" cy="413.68" r="2.9"/><circle cx="977.61" cy="427.85" r="2.9"/><circle cx="977.69" cy="424.25" r="2.9"/><circle cx="977.76" cy="422.41" r="2.9"/><circle cx="977.84" cy="432.45" r="2.9"/><circle cx="977.91" cy="424.29" r="2.9"/><circle cx="977.99" cy="428.70" r="2.9"/><circle cx="978.06" cy="415.65" r="2.9"/><circle cx="978.14" cy="411.42" r="2.9"/><circle cx="978.21" cy="417.12" r="2.9"/><circle cx="978.29" cy="414.94" r="2.9"/><circle cx="978.36" cy="414.58" r="2.9"/><circle cx="978.44" cy="412.88" r="2.9"/><circle cx="978.51" cy="426.16" r="2.9"/><circle cx="978.59" cy="414.33" r="2.9"/><circle cx="978.66" cy="420.12" r="2.9"/><circle cx="978.74" cy="424.00" r="2.9"/><circle cx="978.82" cy="417.19" r="2.9"/><circle cx="978.89" cy="429.31" r="2.9"/><circle cx="978.97" cy="428.62" r="2.9"/><circle cx="979.04" cy="427.52" r="2.9"/><circle cx="979.12" cy="428.65" r="2.9"/><circle cx="979.19" cy="408.58" r="2.9"/><circle cx="979.27" cy="431.55" r="2.9"/><circle cx="979.34" cy="414.32" r="2.9"/><circle cx="979.42" cy="411.68" r="2.9"/><circle cx="979.49" cy="427.17" r="2.9"/><circle cx="979.57" cy="411.91" r="2.9"/><circle cx="979.64" cy="427.49" r="2.9"/><circle cx="979.72" cy="435.71" r="2.9"/><circle cx="979.79" cy="435.31" r="2.9"/><circle cx="979.87" cy="429.89" r="2.9"/><circle cx="979.94" cy="428.52" r="2.9"/><circle cx="980.02" cy="434.96" r="2.9"/><circle cx="980.09" cy="435.14" r="2.9"/><circle cx="980.17" cy="435.66" r="2.9"/><circle cx="980.24" cy="414.52" r="2.9"/><circle cx="980.32" cy="411.48" r="2.9"/><circle cx="980.39" cy="409.52" r="2.9"/><circle cx="980.47" cy="411.58" r="2.9"/><circle cx="980.54" cy="420.15" r="2.9"/><circle cx="980.62" cy="428.89" r="2.9"/><circle cx="980.70" cy="428.37" r="2.9"/><circle cx="980.77" cy="421.89" r="2.9"/><circle cx="980.85" cy="428.37" r="2.9"/><circle cx="980.92" cy="418.74" r="2.9"/><circle cx="981.00" cy="411.08" r="2.9"/><circle cx="981.07" cy="423.80" r="2.9"/><circle cx="981.15" cy="423.27" r="2.9"/><circle cx="981.22" cy="430.37" r="2.9"/><circle cx="981.30" cy="431.44" r="2.9"/><circle cx="981.37" cy="420.52" r="2.9"/><circle cx="981.45" cy="410.64" r="2.9"/><circle cx="981.52" cy="423.56" r="2.9"/><circle cx="981.60" cy="428.70" r="2.9"/><circle cx="981.67" cy="420.24" r="2.9"/><circle cx="981.75" cy="426.66" r="2.9"/><circle cx="981.82" cy="419.35" r="2.9"/><circle cx="981.90" cy="421.91" r="2.9"/><circle cx="981.97" cy="416.24" r="2.9"/><circle cx="982.05" cy="418.63" r="2.9"/><circle cx="982.12" cy="415.76" r="2.9"/><circle cx="982.20" cy="430.91" r="2.9"/><circle cx="982.27" cy="426.94" r="2.9"/><circle cx="982.35" cy="416.71" r="2.9"/><circle cx="982.42" cy="422.48" r="2.9"/><circle cx="982.50" cy="426.70" r="2.9"/><circle cx="982.58" cy="425.36" r="2.9"/><circle cx="982.65" cy="421.55" r="2.9"/><circle cx="982.73" cy="416.30" r="2.9"/><circle cx="982.80" cy="413.94" r="2.9"/><circle cx="982.88" cy="422.84" r="2.9"/><circle cx="982.95" cy="426.64" r="2.9"/><circle cx="983.03" cy="422.75" r="2.9"/><circle cx="983.10" cy="422.75" r="2.9"/><circle cx="983.18" cy="421.72" r="2.9"/><circle cx="983.25" cy="412.23" r="2.9"/><circle cx="983.33" cy="417.61" r="2.9"/><circle cx="983.40" cy="408.11" r="2.9"/><circle cx="983.48" cy="405.69" r="2.9"/><circle cx="983.55" cy="428.51" r="2.9"/><circle cx="983.63" cy="413.49" r="2.9"/><circle cx="983.70" cy="424.90" r="2.9"/><circle cx="983.78" cy="410.36" r="2.9"/><circle cx="983.85" cy="414.81" r="2.9"/><circle cx="983.93" cy="415.01" r="2.9"/><circle cx="984.00" cy="428.78" r="2.9"/><circle cx="984.08" cy="418.68" r="2.9"/><circle cx="984.15" cy="406.32" r="2.9"/><circle cx="984.23" cy="418.81" r="2.9"/><circle cx="984.30" cy="415.23" r="2.9"/><circle cx="984.38" cy="413.55" r="2.9"/><circle cx="984.45" cy="428.66" r="2.9"/><circle cx="984.53" cy="415.90" r="2.9"/><circle cx="984.61" cy="405.57" r="2.9"/><circle cx="984.68" cy="408.56" r="2.9"/><circle cx="984.76" cy="403.10" r="2.9"/><circle cx="984.83" cy="421.47" r="2.9"/><circle cx="984.91" cy="429.22" r="2.9"/><circle cx="984.98" cy="426.51" r="2.9"/><circle cx="985.06" cy="402.97" r="2.9"/><circle cx="985.13" cy="409.12" r="2.9"/><circle cx="985.21" cy="407.56" r="2.9"/><circle cx="985.28" cy="423.72" r="2.9"/><circle cx="985.36" cy="425.93" r="2.9"/><circle cx="985.43" cy="404.57" r="2.9"/><circle cx="985.51" cy="421.80" r="2.9"/><circle cx="985.58" cy="427.93" r="2.9"/><circle cx="985.66" cy="438.96" r="2.9"/><circle cx="985.73" cy="402.08" r="2.9"/><circle cx="985.81" cy="435.95" r="2.9"/><circle cx="985.88" cy="403.73" r="2.9"/><circle cx="985.96" cy="436.68" r="2.9"/><circle cx="986.03" cy="437.95" r="2.9"/><circle cx="986.11" cy="430.13" r="2.9"/><circle cx="986.18" cy="435.14" r="2.9"/><circle cx="986.26" cy="436.12" r="2.9"/><circle cx="986.33" cy="437.30" r="2.9"/><circle cx="986.41" cy="435.78" r="2.9"/><circle cx="986.49" cy="412.48" r="2.9"/><circle cx="986.56" cy="437.17" r="2.9"/><circle cx="986.64" cy="422.99" r="2.9"/><circle cx="986.71" cy="432.18" r="2.9"/><circle cx="986.79" cy="439.04" r="2.9"/><circle cx="986.86" cy="424.08" r="2.9"/><circle cx="986.94" cy="435.29" r="2.9"/><circle cx="987.01" cy="424.08" r="2.9"/><circle cx="987.09" cy="432.22" r="2.9"/><circle cx="987.16" cy="438.15" r="2.9"/><circle cx="987.24" cy="436.05" r="2.9"/><circle cx="987.31" cy="438.22" r="2.9"/><circle cx="987.39" cy="407.17" r="2.9"/><circle cx="987.46" cy="431.61" r="2.9"/><circle cx="987.54" cy="434.97" r="2.9"/><circle cx="987.61" cy="425.34" r="2.9"/><circle cx="987.69" cy="437.54" r="2.9"/><circle cx="987.76" cy="424.61" r="2.9"/><circle cx="987.84" cy="431.59" r="2.9"/><circle cx="987.91" cy="422.62" r="2.9"/><circle cx="987.99" cy="425.90" r="2.9"/><circle cx="988.06" cy="429.47" r="2.9"/><circle cx="988.14" cy="437.11" r="2.9"/><circle cx="988.21" cy="436.59" r="2.9"/><circle cx="988.29" cy="404.08" r="2.9"/><circle cx="988.37" cy="435.77" r="2.9"/><circle cx="988.44" cy="430.56" r="2.9"/><circle cx="988.52" cy="436.55" r="2.9"/><circle cx="988.59" cy="410.89" r="2.9"/><circle cx="988.67" cy="437.14" r="2.9"/><circle cx="988.74" cy="403.59" r="2.9"/><circle cx="988.82" cy="438.14" r="2.9"/><circle cx="988.89" cy="412.74" r="2.9"/><circle cx="988.97" cy="434.62" r="2.9"/><circle cx="989.04" cy="430.06" r="2.9"/><circle cx="989.12" cy="435.86" r="2.9"/><circle cx="989.19" cy="434.27" r="2.9"/><circle cx="989.27" cy="433.70" r="2.9"/><circle cx="989.34" cy="428.16" r="2.9"/><circle cx="989.42" cy="407.84" r="2.9"/><circle cx="989.49" cy="415.96" r="2.9"/><circle cx="989.57" cy="400.92" r="2.9"/><circle cx="989.64" cy="406.84" r="2.9"/><circle cx="989.72" cy="396.63" r="2.9"/><circle cx="989.79" cy="427.02" r="2.9"/><circle cx="989.87" cy="411.18" r="2.9"/><circle cx="989.94" cy="404.12" r="2.9"/><circle cx="990.02" cy="409.23" r="2.9"/><circle cx="990.09" cy="419.84" r="2.9"/><circle cx="990.17" cy="425.91" r="2.9"/><circle cx="990.24" cy="397.06" r="2.9"/><circle cx="990.32" cy="401.49" r="2.9"/><circle cx="990.40" cy="397.44" r="2.9"/><circle cx="990.47" cy="422.83" r="2.9"/><circle cx="990.55" cy="425.15" r="2.9"/><circle cx="990.62" cy="397.80" r="2.9"/><circle cx="990.70" cy="408.07" r="2.9"/><circle cx="990.77" cy="425.37" r="2.9"/><circle cx="990.85" cy="413.16" r="2.9"/><circle cx="990.92" cy="425.17" r="2.9"/><circle cx="991.00" cy="407.82" r="2.9"/><circle cx="991.07" cy="400.64" r="2.9"/><circle cx="991.15" cy="426.10" r="2.9"/><circle cx="991.22" cy="396.89" r="2.9"/><circle cx="991.30" cy="406.45" r="2.9"/><circle cx="991.37" cy="423.28" r="2.9"/><circle cx="991.45" cy="397.10" r="2.9"/><circle cx="991.52" cy="417.25" r="2.9"/><circle cx="991.60" cy="425.61" r="2.9"/><circle cx="991.67" cy="400.03" r="2.9"/><circle cx="991.75" cy="424.15" r="2.9"/><circle cx="991.82" cy="404.67" r="2.9"/><circle cx="991.90" cy="418.58" r="2.9"/><circle cx="991.97" cy="405.39" r="2.9"/><circle cx="992.05" cy="399.32" r="2.9"/><circle cx="992.12" cy="400.65" r="2.9"/><circle cx="992.20" cy="399.86" r="2.9"/><circle cx="924.60" cy="414.21" r="2.9"/><circle cx="924.60" cy="444.65" r="2.9"/><circle cx="924.83" cy="414.21" r="2.9"/><circle cx="924.83" cy="444.51" r="2.9"/><circle cx="925.05" cy="413.63" r="2.9"/><circle cx="925.05" cy="443.92" r="2.9"/><circle cx="925.28" cy="413.78" r="2.9"/><circle cx="925.28" cy="443.91" r="2.9"/><circle cx="925.50" cy="414.29" r="2.9"/><circle cx="925.50" cy="443.94" r="2.9"/><circle cx="925.73" cy="413.71" r="2.9"/><circle cx="925.73" cy="444.29" r="2.9"/><circle cx="925.95" cy="413.68" r="2.9"/><circle cx="925.95" cy="443.90" r="2.9"/><circle cx="926.18" cy="414.27" r="2.9"/><circle cx="926.18" cy="444.14" r="2.9"/><circle cx="926.40" cy="413.96" r="2.9"/><circle cx="926.40" cy="444.37" r="2.9"/><circle cx="926.63" cy="414.26" r="2.9"/><circle cx="926.63" cy="444.26" r="2.9"/><circle cx="926.86" cy="414.10" r="2.9"/><circle cx="926.86" cy="444.52" r="2.9"/><circle cx="927.08" cy="413.78" r="2.9"/><circle cx="927.08" cy="444.59" r="2.9"/><circle cx="927.31" cy="414.17" r="2.9"/><circle cx="927.31" cy="444.19" r="2.9"/><circle cx="927.53" cy="413.75" r="2.9"/><circle cx="927.53" cy="443.93" r="2.9"/><circle cx="927.76" cy="414.12" r="2.9"/><circle cx="927.76" cy="444.30" r="2.9"/><circle cx="927.98" cy="414.31" r="2.9"/><circle cx="927.98" cy="444.41" r="2.9"/><circle cx="928.21" cy="415.12" r="2.9"/><circle cx="928.21" cy="444.35" r="2.9"/><circle cx="928.43" cy="414.86" r="2.9"/><circle cx="928.43" cy="444.22" r="2.9"/><circle cx="928.66" cy="415.25" r="2.9"/><circle cx="928.66" cy="443.89" r="2.9"/><circle cx="928.89" cy="415.35" r="2.9"/><circle cx="928.89" cy="443.83" r="2.9"/><circle cx="929.11" cy="415.45" r="2.9"/><circle cx="929.11" cy="443.89" r="2.9"/><circle cx="929.34" cy="415.93" r="2.9"/><circle cx="929.34" cy="444.44" r="2.9"/><circle cx="929.56" cy="415.78" r="2.9"/><circle cx="929.56" cy="444.37" r="2.9"/><circle cx="929.79" cy="415.61" r="2.9"/><circle cx="929.79" cy="444.44" r="2.9"/><circle cx="930.01" cy="415.69" r="2.9"/><circle cx="930.01" cy="443.81" r="2.9"/><circle cx="930.24" cy="416.20" r="2.9"/><circle cx="930.24" cy="443.86" r="2.9"/><circle cx="930.47" cy="415.48" r="2.9"/><circle cx="930.47" cy="444.36" r="2.9"/><circle cx="930.69" cy="416.12" r="2.9"/><circle cx="930.69" cy="444.54" r="2.9"/><circle cx="930.92" cy="415.98" r="2.9"/><circle cx="930.92" cy="444.35" r="2.9"/><circle cx="931.14" cy="415.96" r="2.9"/><circle cx="931.14" cy="444.57" r="2.9"/><circle cx="931.37" cy="415.46" r="2.9"/><circle cx="931.37" cy="444.31" r="2.9"/><circle cx="931.59" cy="414.56" r="2.9"/><circle cx="931.59" cy="444.58" r="2.9"/><circle cx="931.82" cy="414.76" r="2.9"/><circle cx="931.82" cy="444.15" r="2.9"/><circle cx="932.04" cy="413.88" r="2.9"/><circle cx="932.04" cy="444.22" r="2.9"/><circle cx="932.27" cy="414.10" r="2.9"/><circle cx="932.27" cy="444.40" r="2.9"/><circle cx="932.50" cy="413.46" r="2.9"/><circle cx="932.50" cy="444.46" r="2.9"/><circle cx="932.72" cy="413.14" r="2.9"/><circle cx="932.72" cy="443.95" r="2.9"/><circle cx="932.95" cy="413.57" r="2.9"/><circle cx="932.95" cy="444.40" r="2.9"/><circle cx="933.17" cy="413.06" r="2.9"/><circle cx="933.17" cy="444.49" r="2.9"/><circle cx="933.40" cy="413.49" r="2.9"/><circle cx="933.40" cy="444.16" r="2.9"/><circle cx="933.62" cy="413.22" r="2.9"/><circle cx="933.62" cy="444.39" r="2.9"/><circle cx="933.85" cy="413.49" r="2.9"/><circle cx="933.85" cy="443.98" r="2.9"/><circle cx="934.07" cy="413.65" r="2.9"/><circle cx="934.07" cy="444.08" r="2.9"/><circle cx="934.30" cy="413.16" r="2.9"/><circle cx="934.30" cy="444.49" r="2.9"/><circle cx="934.53" cy="413.59" r="2.9"/><circle cx="934.53" cy="444.22" r="2.9"/><circle cx="934.75" cy="413.58" r="2.9"/><circle cx="934.75" cy="444.50" r="2.9"/><circle cx="934.98" cy="413.65" r="2.9"/><circle cx="934.98" cy="444.27" r="2.9"/><circle cx="935.20" cy="413.67" r="2.9"/><circle cx="935.20" cy="443.84" r="2.9"/><circle cx="935.43" cy="413.39" r="2.9"/><circle cx="935.43" cy="444.52" r="2.9"/><circle cx="935.65" cy="413.73" r="2.9"/><circle cx="935.65" cy="444.15" r="2.9"/><circle cx="935.88" cy="413.70" r="2.9"/><circle cx="935.88" cy="444.31" r="2.9"/><circle cx="936.10" cy="413.15" r="2.9"/><circle cx="936.10" cy="443.86" r="2.9"/><circle cx="936.33" cy="413.29" r="2.9"/><circle cx="936.33" cy="444.39" r="2.9"/><circle cx="936.56" cy="413.30" r="2.9"/><circle cx="936.56" cy="444.04" r="2.9"/><circle cx="936.78" cy="413.00" r="2.9"/><circle cx="936.78" cy="444.10" r="2.9"/><circle cx="937.01" cy="413.36" r="2.9"/><circle cx="937.01" cy="444.10" r="2.9"/><circle cx="937.23" cy="413.10" r="2.9"/><circle cx="937.23" cy="443.94" r="2.9"/><circle cx="937.46" cy="413.65" r="2.9"/><circle cx="937.46" cy="443.81" r="2.9"/><circle cx="937.68" cy="413.69" r="2.9"/><circle cx="937.68" cy="443.93" r="2.9"/><circle cx="937.91" cy="414.26" r="2.9"/><circle cx="937.91" cy="443.90" r="2.9"/><circle cx="938.14" cy="414.53" r="2.9"/><circle cx="938.14" cy="443.78" r="2.9"/><circle cx="938.36" cy="415.77" r="2.9"/><circle cx="938.36" cy="444.04" r="2.9"/><circle cx="938.59" cy="415.95" r="2.9"/><circle cx="938.59" cy="443.97" r="2.9"/><circle cx="938.81" cy="416.49" r="2.9"/><circle cx="938.81" cy="444.34" r="2.9"/><circle cx="939.04" cy="417.36" r="2.9"/><circle cx="939.04" cy="444.14" r="2.9"/><circle cx="939.26" cy="417.26" r="2.9"/><circle cx="939.26" cy="444.20" r="2.9"/><circle cx="939.49" cy="417.40" r="2.9"/><circle cx="939.49" cy="443.59" r="2.9"/><circle cx="939.71" cy="417.22" r="2.9"/><circle cx="939.71" cy="444.12" r="2.9"/><circle cx="939.94" cy="417.76" r="2.9"/><circle cx="939.94" cy="444.00" r="2.9"/><circle cx="940.17" cy="417.21" r="2.9"/><circle cx="940.17" cy="443.64" r="2.9"/><circle cx="940.39" cy="417.66" r="2.9"/><circle cx="940.39" cy="443.66" r="2.9"/><circle cx="940.62" cy="417.76" r="2.9"/><circle cx="940.62" cy="443.96" r="2.9"/><circle cx="940.84" cy="417.90" r="2.9"/><circle cx="940.84" cy="443.43" r="2.9"/><circle cx="941.07" cy="417.24" r="2.9"/><circle cx="941.07" cy="443.86" r="2.9"/><circle cx="941.29" cy="417.59" r="2.9"/><circle cx="941.29" cy="443.52" r="2.9"/><circle cx="941.52" cy="417.42" r="2.9"/><circle cx="941.52" cy="443.79" r="2.9"/><circle cx="941.74" cy="417.52" r="2.9"/><circle cx="941.74" cy="443.74" r="2.9"/><circle cx="941.97" cy="417.67" r="2.9"/><circle cx="941.97" cy="443.12" r="2.9"/><circle cx="942.20" cy="417.32" r="2.9"/><circle cx="942.20" cy="443.31" r="2.9"/><circle cx="942.42" cy="417.80" r="2.9"/><circle cx="942.42" cy="443.59" r="2.9"/><circle cx="942.65" cy="417.86" r="2.9"/><circle cx="942.65" cy="442.94" r="2.9"/><circle cx="942.87" cy="417.51" r="2.9"/><circle cx="942.87" cy="443.31" r="2.9"/><circle cx="943.10" cy="417.87" r="2.9"/><circle cx="943.10" cy="443.19" r="2.9"/><circle cx="943.32" cy="417.52" r="2.9"/><circle cx="943.32" cy="442.82" r="2.9"/><circle cx="943.55" cy="417.82" r="2.9"/><circle cx="943.55" cy="443.26" r="2.9"/><circle cx="943.77" cy="417.39" r="2.9"/><circle cx="943.77" cy="443.22" r="2.9"/><circle cx="944.00" cy="417.55" r="2.9"/><circle cx="944.00" cy="442.66" r="2.9"/><circle cx="944.23" cy="417.84" r="2.9"/><circle cx="944.23" cy="442.68" r="2.9"/><circle cx="944.45" cy="417.85" r="2.9"/><circle cx="944.45" cy="442.69" r="2.9"/><circle cx="944.68" cy="417.24" r="2.9"/><circle cx="944.68" cy="442.92" r="2.9"/><circle cx="944.90" cy="417.97" r="2.9"/><circle cx="944.90" cy="442.54" r="2.9"/><circle cx="945.13" cy="417.40" r="2.9"/><circle cx="945.13" cy="442.91" r="2.9"/><circle cx="945.35" cy="417.71" r="2.9"/><circle cx="945.35" cy="442.92" r="2.9"/><circle cx="945.58" cy="417.20" r="2.9"/><circle cx="945.58" cy="443.12" r="2.9"/><circle cx="945.80" cy="416.58" r="2.9"/><circle cx="945.80" cy="442.73" r="2.9"/><circle cx="946.03" cy="415.71" r="2.9"/><circle cx="946.03" cy="442.98" r="2.9"/><circle cx="946.26" cy="415.93" r="2.9"/><circle cx="946.26" cy="442.41" r="2.9"/><circle cx="946.48" cy="415.37" r="2.9"/><circle cx="946.48" cy="442.46" r="2.9"/><circle cx="946.71" cy="414.72" r="2.9"/><circle cx="946.71" cy="442.20" r="2.9"/><circle cx="946.93" cy="414.25" r="2.9"/><circle cx="946.93" cy="442.81" r="2.9"/><circle cx="947.16" cy="413.51" r="2.9"/><circle cx="947.16" cy="442.57" r="2.9"/><circle cx="947.38" cy="413.44" r="2.9"/><circle cx="947.38" cy="442.50" r="2.9"/><circle cx="947.61" cy="413.33" r="2.9"/><circle cx="947.61" cy="441.91" r="2.9"/><circle cx="947.84" cy="413.40" r="2.9"/><circle cx="947.84" cy="442.39" r="2.9"/><circle cx="948.06" cy="413.32" r="2.9"/><circle cx="948.06" cy="442.18" r="2.9"/><circle cx="948.29" cy="413.66" r="2.9"/><circle cx="948.29" cy="442.23" r="2.9"/><circle cx="948.51" cy="413.14" r="2.9"/><circle cx="948.51" cy="441.88" r="2.9"/><circle cx="948.74" cy="413.00" r="2.9"/><circle cx="948.74" cy="441.86" r="2.9"/><circle cx="948.96" cy="413.66" r="2.9"/><circle cx="948.96" cy="441.87" r="2.9"/><circle cx="949.19" cy="413.11" r="2.9"/><circle cx="949.19" cy="441.84" r="2.9"/><circle cx="949.41" cy="413.33" r="2.9"/><circle cx="949.41" cy="442.03" r="2.9"/><circle cx="949.64" cy="413.00" r="2.9"/><circle cx="949.64" cy="441.98" r="2.9"/><circle cx="949.87" cy="413.13" r="2.9"/><circle cx="949.87" cy="441.70" r="2.9"/><circle cx="950.09" cy="413.13" r="2.9"/><circle cx="950.09" cy="441.77" r="2.9"/><circle cx="950.32" cy="412.97" r="2.9"/><circle cx="950.32" cy="441.46" r="2.9"/><circle cx="950.54" cy="413.57" r="2.9"/><circle cx="950.54" cy="441.35" r="2.9"/><circle cx="950.77" cy="413.36" r="2.9"/><circle cx="950.77" cy="441.26" r="2.9"/><circle cx="950.99" cy="413.06" r="2.9"/><circle cx="950.99" cy="441.14" r="2.9"/><circle cx="951.22" cy="413.27" r="2.9"/><circle cx="951.22" cy="441.21" r="2.9"/><circle cx="951.44" cy="413.39" r="2.9"/><circle cx="951.44" cy="441.21" r="2.9"/><circle cx="951.67" cy="413.86" r="2.9"/><circle cx="951.67" cy="441.33" r="2.9"/><circle cx="951.90" cy="414.73" r="2.9"/><circle cx="951.90" cy="441.05" r="2.9"/><circle cx="952.12" cy="415.80" r="2.9"/><circle cx="952.12" cy="440.93" r="2.9"/><circle cx="952.35" cy="416.44" r="2.9"/><circle cx="952.35" cy="441.05" r="2.9"/><circle cx="952.57" cy="418.06" r="2.9"/><circle cx="952.57" cy="441.08" r="2.9"/><circle cx="952.80" cy="418.35" r="2.9"/><circle cx="952.80" cy="440.82" r="2.9"/><circle cx="953.02" cy="418.13" r="2.9"/><circle cx="953.02" cy="440.36" r="2.9"/><circle cx="953.25" cy="418.14" r="2.9"/><circle cx="953.25" cy="440.47" r="2.9"/><circle cx="953.47" cy="418.03" r="2.9"/><circle cx="953.47" cy="440.97" r="2.9"/><circle cx="953.70" cy="418.60" r="2.9"/><circle cx="953.70" cy="440.61" r="2.9"/><circle cx="953.93" cy="417.95" r="2.9"/><circle cx="953.93" cy="440.59" r="2.9"/><circle cx="954.15" cy="418.25" r="2.9"/><circle cx="954.15" cy="440.25" r="2.9"/><circle cx="954.38" cy="417.99" r="2.9"/><circle cx="954.38" cy="440.59" r="2.9"/><circle cx="954.60" cy="418.67" r="2.9"/><circle cx="954.60" cy="440.12" r="2.9"/><circle cx="954.83" cy="418.02" r="2.9"/><circle cx="954.83" cy="440.38" r="2.9"/><circle cx="955.05" cy="418.18" r="2.9"/><circle cx="955.05" cy="440.05" r="2.9"/><circle cx="955.28" cy="418.39" r="2.9"/><circle cx="955.28" cy="439.87" r="2.9"/><circle cx="955.51" cy="418.56" r="2.9"/><circle cx="955.51" cy="440.09" r="2.9"/><circle cx="955.73" cy="418.49" r="2.9"/><circle cx="955.73" cy="439.87" r="2.9"/><circle cx="955.96" cy="418.51" r="2.9"/><circle cx="955.96" cy="440.04" r="2.9"/><circle cx="956.18" cy="418.53" r="2.9"/><circle cx="956.18" cy="439.81" r="2.9"/><circle cx="956.41" cy="418.62" r="2.9"/><circle cx="956.41" cy="440.23" r="2.9"/><circle cx="956.63" cy="418.11" r="2.9"/><circle cx="956.63" cy="440.29" r="2.9"/><circle cx="956.86" cy="417.56" r="2.9"/><circle cx="956.86" cy="439.78" r="2.9"/><circle cx="957.08" cy="416.87" r="2.9"/><circle cx="957.08" cy="439.44" r="2.9"/><circle cx="957.31" cy="416.46" r="2.9"/><circle cx="957.31" cy="439.83" r="2.9"/><circle cx="957.54" cy="416.16" r="2.9"/><circle cx="957.54" cy="439.43" r="2.9"/><circle cx="957.76" cy="415.76" r="2.9"/><circle cx="957.76" cy="439.78" r="2.9"/><circle cx="957.99" cy="415.46" r="2.9"/><circle cx="957.99" cy="439.67" r="2.9"/><circle cx="958.21" cy="415.50" r="2.9"/><circle cx="958.21" cy="439.76" r="2.9"/><circle cx="958.44" cy="415.06" r="2.9"/><circle cx="958.44" cy="439.51" r="2.9"/><circle cx="958.66" cy="414.88" r="2.9"/><circle cx="958.66" cy="439.66" r="2.9"/><circle cx="958.89" cy="415.02" r="2.9"/><circle cx="958.89" cy="439.19" r="2.9"/><circle cx="959.11" cy="414.62" r="2.9"/><circle cx="959.11" cy="439.47" r="2.9"/><circle cx="959.34" cy="414.19" r="2.9"/><circle cx="959.34" cy="439.54" r="2.9"/><circle cx="959.57" cy="413.98" r="2.9"/><circle cx="959.57" cy="439.28" r="2.9"/><circle cx="959.79" cy="414.16" r="2.9"/><circle cx="959.79" cy="439.63" r="2.9"/><circle cx="960.02" cy="414.25" r="2.9"/><circle cx="960.02" cy="439.40" r="2.9"/><circle cx="960.24" cy="414.01" r="2.9"/><circle cx="960.24" cy="438.95" r="2.9"/><circle cx="960.47" cy="413.93" r="2.9"/><circle cx="960.47" cy="439.41" r="2.9"/><circle cx="960.69" cy="413.33" r="2.9"/><circle cx="960.69" cy="438.80" r="2.9"/><circle cx="960.92" cy="412.82" r="2.9"/><circle cx="960.92" cy="439.45" r="2.9"/><circle cx="961.14" cy="413.09" r="2.9"/><circle cx="961.14" cy="439.05" r="2.9"/><circle cx="961.37" cy="413.19" r="2.9"/><circle cx="961.37" cy="438.79" r="2.9"/><circle cx="961.60" cy="412.71" r="2.9"/><circle cx="961.60" cy="438.56" r="2.9"/><circle cx="961.82" cy="412.60" r="2.9"/><circle cx="961.82" cy="438.91" r="2.9"/><circle cx="962.05" cy="412.71" r="2.9"/><circle cx="962.05" cy="438.97" r="2.9"/><circle cx="962.27" cy="412.42" r="2.9"/><circle cx="962.27" cy="438.76" r="2.9"/><circle cx="962.50" cy="412.39" r="2.9"/><circle cx="962.50" cy="438.44" r="2.9"/><circle cx="962.72" cy="412.63" r="2.9"/><circle cx="962.72" cy="438.73" r="2.9"/><circle cx="962.95" cy="412.14" r="2.9"/><circle cx="962.95" cy="438.81" r="2.9"/><circle cx="963.17" cy="412.36" r="2.9"/><circle cx="963.17" cy="438.58" r="2.9"/><circle cx="963.40" cy="412.47" r="2.9"/><circle cx="963.40" cy="438.24" r="2.9"/><circle cx="963.63" cy="412.76" r="2.9"/><circle cx="963.63" cy="438.46" r="2.9"/><circle cx="963.85" cy="412.32" r="2.9"/><circle cx="963.85" cy="438.26" r="2.9"/><circle cx="964.08" cy="412.74" r="2.9"/><circle cx="964.08" cy="438.39" r="2.9"/><circle cx="964.30" cy="412.34" r="2.9"/><circle cx="964.30" cy="437.93" r="2.9"/><circle cx="964.53" cy="412.03" r="2.9"/><circle cx="964.53" cy="438.23" r="2.9"/><circle cx="964.75" cy="412.65" r="2.9"/><circle cx="964.75" cy="437.74" r="2.9"/><circle cx="964.98" cy="412.25" r="2.9"/><circle cx="964.98" cy="438.22" r="2.9"/><circle cx="965.21" cy="412.53" r="2.9"/><circle cx="965.21" cy="437.67" r="2.9"/><circle cx="965.43" cy="412.45" r="2.9"/><circle cx="965.43" cy="437.34" r="2.9"/><circle cx="965.66" cy="412.48" r="2.9"/><circle cx="965.66" cy="437.70" r="2.9"/><circle cx="965.88" cy="411.87" r="2.9"/><circle cx="965.88" cy="437.72" r="2.9"/><circle cx="966.11" cy="412.13" r="2.9"/><circle cx="966.11" cy="437.45" r="2.9"/><circle cx="966.33" cy="411.85" r="2.9"/><circle cx="966.33" cy="437.62" r="2.9"/><circle cx="966.56" cy="412.17" r="2.9"/><circle cx="966.56" cy="437.19" r="2.9"/><circle cx="966.78" cy="411.93" r="2.9"/><circle cx="966.78" cy="436.79" r="2.9"/><circle cx="967.01" cy="412.13" r="2.9"/><circle cx="967.01" cy="437.46" r="2.9"/><circle cx="967.24" cy="412.15" r="2.9"/><circle cx="967.24" cy="436.78" r="2.9"/><circle cx="967.46" cy="413.45" r="2.9"/><circle cx="967.46" cy="436.76" r="2.9"/><circle cx="967.69" cy="414.60" r="2.9"/><circle cx="967.69" cy="436.98" r="2.9"/><circle cx="967.91" cy="415.97" r="2.9"/><circle cx="967.91" cy="436.67" r="2.9"/><circle cx="968.14" cy="415.83" r="2.9"/><circle cx="968.14" cy="436.89" r="2.9"/><circle cx="968.36" cy="415.70" r="2.9"/><circle cx="968.36" cy="436.53" r="2.9"/><circle cx="968.59" cy="415.51" r="2.9"/><circle cx="968.59" cy="436.37" r="2.9"/><circle cx="968.81" cy="415.73" r="2.9"/><circle cx="968.81" cy="436.01" r="2.9"/><circle cx="969.04" cy="415.76" r="2.9"/><circle cx="969.04" cy="436.40" r="2.9"/><circle cx="969.27" cy="415.40" r="2.9"/><circle cx="969.27" cy="436.52" r="2.9"/><circle cx="969.49" cy="415.91" r="2.9"/><circle cx="969.49" cy="436.48" r="2.9"/><circle cx="969.72" cy="415.38" r="2.9"/><circle cx="969.72" cy="436.35" r="2.9"/><circle cx="969.94" cy="415.72" r="2.9"/><circle cx="969.94" cy="435.75" r="2.9"/><circle cx="970.17" cy="415.79" r="2.9"/><circle cx="970.17" cy="435.68" r="2.9"/><circle cx="970.39" cy="413.29" r="2.9"/><circle cx="970.39" cy="436.24" r="2.9"/><circle cx="970.62" cy="411.45" r="2.9"/><circle cx="970.62" cy="435.91" r="2.9"/><circle cx="970.84" cy="409.47" r="2.9"/><circle cx="970.84" cy="435.80" r="2.9"/><circle cx="971.07" cy="409.01" r="2.9"/><circle cx="971.07" cy="435.79" r="2.9"/><circle cx="971.30" cy="408.94" r="2.9"/><circle cx="971.30" cy="435.20" r="2.9"/><circle cx="971.52" cy="409.31" r="2.9"/><circle cx="971.52" cy="435.56" r="2.9"/><circle cx="971.75" cy="409.18" r="2.9"/><circle cx="971.75" cy="435.45" r="2.9"/><circle cx="971.97" cy="408.85" r="2.9"/><circle cx="971.97" cy="434.97" r="2.9"/><circle cx="972.20" cy="409.25" r="2.9"/><circle cx="972.20" cy="434.83" r="2.9"/><circle cx="972.42" cy="409.12" r="2.9"/><circle cx="972.42" cy="435.02" r="2.9"/><circle cx="972.65" cy="408.95" r="2.9"/><circle cx="972.65" cy="435.40" r="2.9"/><circle cx="972.87" cy="409.47" r="2.9"/><circle cx="972.87" cy="434.68" r="2.9"/><circle cx="973.10" cy="408.96" r="2.9"/><circle cx="973.10" cy="434.56" r="2.9"/><circle cx="973.33" cy="409.34" r="2.9"/><circle cx="973.33" cy="434.95" r="2.9"/><circle cx="973.55" cy="409.16" r="2.9"/><circle cx="973.55" cy="434.35" r="2.9"/><circle cx="973.78" cy="409.05" r="2.9"/><circle cx="973.78" cy="434.28" r="2.9"/><circle cx="974.00" cy="408.83" r="2.9"/><circle cx="974.00" cy="434.64" r="2.9"/><circle cx="974.23" cy="409.19" r="2.9"/><circle cx="974.23" cy="434.70" r="2.9"/><circle cx="974.45" cy="408.85" r="2.9"/><circle cx="974.45" cy="434.09" r="2.9"/><circle cx="974.68" cy="408.97" r="2.9"/><circle cx="974.68" cy="434.08" r="2.9"/><circle cx="974.91" cy="408.76" r="2.9"/><circle cx="974.91" cy="434.50" r="2.9"/><circle cx="975.13" cy="408.83" r="2.9"/><circle cx="975.13" cy="434.39" r="2.9"/><circle cx="975.36" cy="409.30" r="2.9"/><circle cx="975.36" cy="434.21" r="2.9"/><circle cx="975.58" cy="408.95" r="2.9"/><circle cx="975.58" cy="434.25" r="2.9"/><circle cx="975.81" cy="408.91" r="2.9"/><circle cx="975.81" cy="433.94" r="2.9"/><circle cx="976.03" cy="408.79" r="2.9"/><circle cx="976.03" cy="434.10" r="2.9"/><circle cx="976.26" cy="408.55" r="2.9"/><circle cx="976.26" cy="433.39" r="2.9"/><circle cx="976.48" cy="408.71" r="2.9"/><circle cx="976.48" cy="433.75" r="2.9"/><circle cx="976.71" cy="408.57" r="2.9"/><circle cx="976.71" cy="433.63" r="2.9"/><circle cx="976.94" cy="408.58" r="2.9"/><circle cx="976.94" cy="433.73" r="2.9"/><circle cx="977.16" cy="408.91" r="2.9"/><circle cx="977.16" cy="433.38" r="2.9"/><circle cx="977.39" cy="408.48" r="2.9"/><circle cx="977.39" cy="432.99" r="2.9"/><circle cx="977.61" cy="408.41" r="2.9"/><circle cx="977.61" cy="433.24" r="2.9"/><circle cx="977.84" cy="408.99" r="2.9"/><circle cx="977.84" cy="433.26" r="2.9"/><circle cx="978.06" cy="408.66" r="2.9"/><circle cx="978.06" cy="432.59" r="2.9"/><circle cx="978.29" cy="408.93" r="2.9"/><circle cx="978.29" cy="433.03" r="2.9"/><circle cx="978.51" cy="408.55" r="2.9"/><circle cx="978.51" cy="432.48" r="2.9"/><circle cx="978.74" cy="408.55" r="2.9"/><circle cx="978.74" cy="432.20" r="2.9"/><circle cx="978.97" cy="408.39" r="2.9"/><circle cx="978.97" cy="432.10" r="2.9"/><circle cx="979.19" cy="408.61" r="2.9"/><circle cx="979.19" cy="432.58" r="2.9"/><circle cx="979.42" cy="408.55" r="2.9"/><circle cx="979.42" cy="432.56" r="2.9"/><circle cx="979.64" cy="408.74" r="2.9"/><circle cx="979.64" cy="432.36" r="2.9"/><circle cx="979.87" cy="408.87" r="2.9"/><circle cx="979.87" cy="432.00" r="2.9"/><circle cx="980.09" cy="408.43" r="2.9"/><circle cx="980.09" cy="432.17" r="2.9"/><circle cx="980.32" cy="408.60" r="2.9"/><circle cx="980.32" cy="432.10" r="2.9"/><circle cx="980.54" cy="408.91" r="2.9"/><circle cx="980.54" cy="432.08" r="2.9"/><circle cx="980.77" cy="409.21" r="2.9"/><circle cx="980.77" cy="431.64" r="2.9"/><circle cx="981.00" cy="409.59" r="2.9"/><circle cx="981.00" cy="431.36" r="2.9"/><circle cx="981.22" cy="410.21" r="2.9"/><circle cx="981.22" cy="431.35" r="2.9"/><circle cx="981.45" cy="410.35" r="2.9"/><circle cx="981.45" cy="431.53" r="2.9"/><circle cx="981.67" cy="410.21" r="2.9"/><circle cx="981.67" cy="431.61" r="2.9"/><circle cx="981.90" cy="410.04" r="2.9"/><circle cx="981.90" cy="430.90" r="2.9"/><circle cx="982.12" cy="410.16" r="2.9"/><circle cx="982.12" cy="430.95" r="2.9"/><circle cx="982.35" cy="409.99" r="2.9"/><circle cx="982.35" cy="430.94" r="2.9"/><circle cx="982.58" cy="410.19" r="2.9"/><circle cx="982.58" cy="430.89" r="2.9"/><circle cx="982.80" cy="410.14" r="2.9"/><circle cx="982.80" cy="431.13" r="2.9"/><circle cx="983.03" cy="409.86" r="2.9"/><circle cx="983.03" cy="430.91" r="2.9"/><circle cx="983.25" cy="407.27" r="2.9"/><circle cx="983.25" cy="430.40" r="2.9"/><circle cx="983.48" cy="404.95" r="2.9"/><circle cx="983.48" cy="430.54" r="2.9"/><circle cx="983.70" cy="404.06" r="2.9"/><circle cx="983.70" cy="430.13" r="2.9"/><circle cx="983.93" cy="403.90" r="2.9"/><circle cx="983.93" cy="429.95" r="2.9"/><circle cx="984.15" cy="403.16" r="2.9"/><circle cx="984.15" cy="430.30" r="2.9"/><circle cx="984.38" cy="402.93" r="2.9"/><circle cx="984.38" cy="429.87" r="2.9"/><circle cx="984.61" cy="403.30" r="2.9"/><circle cx="984.61" cy="430.02" r="2.9"/><circle cx="984.83" cy="402.95" r="2.9"/><circle cx="984.83" cy="429.66" r="2.9"/><circle cx="985.06" cy="403.04" r="2.9"/><circle cx="985.06" cy="429.87" r="2.9"/><circle cx="985.28" cy="403.01" r="2.9"/><circle cx="985.28" cy="429.68" r="2.9"/><circle cx="985.51" cy="402.69" r="2.9"/><circle cx="985.51" cy="429.70" r="2.9"/><circle cx="985.73" cy="401.86" r="2.9"/><circle cx="985.73" cy="429.00" r="2.9"/><circle cx="985.96" cy="401.93" r="2.9"/><circle cx="985.96" cy="429.05" r="2.9"/><circle cx="986.18" cy="400.95" r="2.9"/><circle cx="986.18" cy="429.48" r="2.9"/><circle cx="986.41" cy="400.63" r="2.9"/><circle cx="986.41" cy="429.24" r="2.9"/><circle cx="986.64" cy="400.32" r="2.9"/><circle cx="986.64" cy="428.98" r="2.9"/><circle cx="986.86" cy="399.69" r="2.9"/><circle cx="986.86" cy="428.92" r="2.9"/><circle cx="987.09" cy="399.73" r="2.9"/><circle cx="987.09" cy="428.91" r="2.9"/><circle cx="987.31" cy="399.41" r="2.9"/><circle cx="987.31" cy="428.49" r="2.9"/><circle cx="987.54" cy="398.83" r="2.9"/><circle cx="987.54" cy="428.63" r="2.9"/><circle cx="987.76" cy="398.12" r="2.9"/><circle cx="987.76" cy="428.17" r="2.9"/><circle cx="987.99" cy="397.57" r="2.9"/><circle cx="987.99" cy="428.60" r="2.9"/><circle cx="988.21" cy="397.48" r="2.9"/><circle cx="988.21" cy="427.83" r="2.9"/><circle cx="988.44" cy="396.56" r="2.9"/><circle cx="988.44" cy="428.25" r="2.9"/><circle cx="988.67" cy="396.85" r="2.9"/><circle cx="988.67" cy="427.64" r="2.9"/><circle cx="988.89" cy="396.17" r="2.9"/><circle cx="988.89" cy="427.77" r="2.9"/><circle cx="989.12" cy="396.18" r="2.9"/><circle cx="989.12" cy="427.17" r="2.9"/><circle cx="989.34" cy="396.22" r="2.9"/><circle cx="989.34" cy="426.91" r="2.9"/><circle cx="989.57" cy="396.61" r="2.9"/><circle cx="989.57" cy="427.41" r="2.9"/><circle cx="989.79" cy="396.52" r="2.9"/><circle cx="989.79" cy="427.00" r="2.9"/><circle cx="990.02" cy="396.52" r="2.9"/><circle cx="990.02" cy="426.49" r="2.9"/><circle cx="990.24" cy="396.11" r="2.9"/><circle cx="990.24" cy="426.92" r="2.9"/><circle cx="990.47" cy="396.60" r="2.9"/><circle cx="990.47" cy="426.50" r="2.9"/><circle cx="990.70" cy="396.55" r="2.9"/><circle cx="990.70" cy="426.12" r="2.9"/><circle cx="990.92" cy="396.35" r="2.9"/><circle cx="990.92" cy="425.85" r="2.9"/><circle cx="991.15" cy="396.23" r="2.9"/><circle cx="991.15" cy="425.99" r="2.9"/><circle cx="991.37" cy="395.73" r="2.9"/><circle cx="991.37" cy="425.63" r="2.9"/><circle cx="991.60" cy="395.98" r="2.9"/><circle cx="991.60" cy="425.65" r="2.9"/><circle cx="991.82" cy="396.34" r="2.9"/><circle cx="991.82" cy="425.85" r="2.9"/><circle cx="992.05" cy="396.17" r="2.9"/><circle cx="992.05" cy="425.82" r="2.9"/><circle cx="942.75" cy="455.20" r="2.9"/><circle cx="941.80" cy="454.20" r="2.9"/><circle cx="943.30" cy="453.70" r="2.9"/><circle cx="952.06" cy="452.80" r="2.9"/><circle cx="951.60" cy="451.80" r="2.9"/><circle cx="951.90" cy="451.30" r="2.9"/><circle cx="959.26" cy="456.40" r="2.9"/><circle cx="970.10" cy="449.60" r="2.9"/><circle cx="973.47" cy="441.60" r="2.9"/><circle cx="980.04" cy="436.10" r="2.9"/><circle cx="987.54" cy="439.30" r="2.9"/><circle cx="986.90" cy="438.30" r="2.9"/><circle cx="988.10" cy="437.80" r="2.9"/><circle cx="993.00" cy="396.50" r="2.9"/><circle cx="993.00" cy="400.00" r="2.9"/><circle cx="992.90" cy="404.00" r="2.9"/><circle cx="992.80" cy="408.50" r="2.9"/><circle cx="945.40" cy="467.90" r="2.9"/><circle cx="953.30" cy="459.30" r="2.9"/><circle cx="933.20" cy="450.20" r="2.9"/><circle cx="929.60" cy="452.00" r="2.9"/><circle cx="927.20" cy="458.70" r="2.9"/><circle cx="925.90" cy="461.80" r="2.9"/><circle cx="926.60" cy="455.50" r="2.9"/><circle cx="970.80" cy="450.70" r="2.9"/><circle cx="972.00" cy="447.00" r="2.9"/><circle cx="973.20" cy="441.60" r="2.9"/><circle cx="979.90" cy="436.10" r="2.9"/><circle cx="987.20" cy="439.70" r="2.9"/>
</g>
<line x1="924.85" x2="992.45" y1="118.5" y2="118.5" stroke="#660066" stroke-width="6.94" stroke-linecap="round"/>
<g fill="none" stroke="#000" stroke-width="2.12" stroke-linejoin="miter">
<rect x="154.05" y="112.0" width="866.05" height="13.00"/>
<rect x="154.05" y="125.0" width="866.05" height="378.00"/>
</g>
<g stroke="#000" stroke-width="2.12">
<line x1="144.0" x2="154.05" y1="476.00" y2="476.00"/>
<line x1="144.0" x2="154.05" y1="379.00" y2="379.00"/>
<line x1="144.0" x2="154.05" y1="282.00" y2="282.00"/>
<line x1="144.0" x2="154.05" y1="185.00" y2="185.00"/>
<line x1="154.00" x2="154.00" y1="503.0" y2="513.0"/>
<line x1="266.00" x2="266.00" y1="503.0" y2="513.0"/>
<line x1="377.00" x2="377.00" y1="503.0" y2="513.0"/>
<line x1="489.00" x2="489.00" y1="503.0" y2="513.0"/>
<line x1="600.00" x2="600.00" y1="503.0" y2="513.0"/>
<line x1="712.00" x2="712.00" y1="503.0" y2="513.0"/>
<line x1="823.00" x2="823.00" y1="503.0" y2="513.0"/>
<line x1="935.00" x2="935.00" y1="503.0" y2="513.0"/>
</g>
<g stroke="#000" stroke-width="2.0">
<line x1="168.00" x2="168.00" y1="503.0" y2="509.0"/>
<line x1="182.00" x2="182.00" y1="503.0" y2="509.0"/>
<line x1="196.00" x2="196.00" y1="503.0" y2="509.0"/>
<line x1="210.00" x2="210.00" y1="503.0" y2="509.0"/>
<line x1="224.00" x2="224.00" y1="503.0" y2="509.0"/>
<line x1="238.00" x2="238.00" y1="503.0" y2="509.0"/>
<line x1="252.00" x2="252.00" y1="503.0" y2="509.0"/>
<line x1="266.00" x2="266.00" y1="503.0" y2="509.0"/>
<line x1="280.00" x2="280.00" y1="503.0" y2="509.0"/>
<line x1="294.00" x2="294.00" y1="503.0" y2="509.0"/>
<line x1="308.00" x2="308.00" y1="503.0" y2="509.0"/>
<line x1="322.00" x2="322.00" y1="503.0" y2="509.0"/>
<line x1="335.00" x2="335.00" y1="503.0" y2="509.0"/>
<line x1="349.00" x2="349.00" y1="503.0" y2="509.0"/>
<line x1="363.00" x2="363.00" y1="503.0" y2="509.0"/>
<line x1="377.00" x2="377.00" y1="503.0" y2="509.0"/>
<line x1="391.00" x2="391.00" y1="503.0" y2="509.0"/>
<line x1="405.00" x2="405.00" y1="503.0" y2="509.0"/>
<line x1="419.00" x2="419.00" y1="503.0" y2="509.0"/>
<line x1="433.00" x2="433.00" y1="503.0" y2="509.0"/>
<line x1="447.00" x2="447.00" y1="503.0" y2="509.0"/>
<line x1="461.00" x2="461.00" y1="503.0" y2="509.0"/>
<line x1="475.00" x2="475.00" y1="503.0" y2="509.0"/>
<line x1="489.00" x2="489.00" y1="503.0" y2="509.0"/>
<line x1="503.00" x2="503.00" y1="503.0" y2="509.0"/>
<line x1="517.00" x2="517.00" y1="503.0" y2="509.0"/>
<line x1="531.00" x2="531.00" y1="503.0" y2="509.0"/>
<line x1="545.00" x2="545.00" y1="503.0" y2="509.0"/>
<line x1="558.00" x2="558.00" y1="503.0" y2="509.0"/>
<line x1="572.00" x2="572.00" y1="503.0" y2="509.0"/>
<line x1="586.00" x2="586.00" y1="503.0" y2="509.0"/>
<line x1="600.00" x2="600.00" y1="503.0" y2="509.0"/>
<line x1="614.00" x2="614.00" y1="503.0" y2="509.0"/>
<line x1="628.00" x2="628.00" y1="503.0" y2="509.0"/>
<line x1="642.00" x2="642.00" y1="503.0" y2="509.0"/>
<line x1="656.00" x2="656.00" y1="503.0" y2="509.0"/>
<line x1="670.00" x2="670.00" y1="503.0" y2="509.0"/>
<line x1="684.00" x2="684.00" y1="503.0" y2="509.0"/>
<line x1="698.00" x2="698.00" y1="503.0" y2="509.0"/>
<line x1="712.00" x2="712.00" y1="503.0" y2="509.0"/>
<line x1="726.00" x2="726.00" y1="503.0" y2="509.0"/>
<line x1="740.00" x2="740.00" y1="503.0" y2="509.0"/>
<line x1="753.00" x2="753.00" y1="503.0" y2="509.0"/>
<line x1="767.00" x2="767.00" y1="503.0" y2="509.0"/>
<line x1="781.00" x2="781.00" y1="503.0" y2="509.0"/>
<line x1="795.00" x2="795.00" y1="503.0" y2="509.0"/>
<line x1="809.00" x2="809.00" y1="503.0" y2="509.0"/>
<line x1="823.00" x2="823.00" y1="503.0" y2="509.0"/>
<line x1="837.00" x2="837.00" y1="503.0" y2="509.0"/>
<line x1="851.00" x2="851.00" y1="503.0" y2="509.0"/>
<line x1="865.00" x2="865.00" y1="503.0" y2="509.0"/>
<line x1="879.00" x2="879.00" y1="503.0" y2="509.0"/>
<line x1="893.00" x2="893.00" y1="503.0" y2="509.0"/>
<line x1="907.00" x2="907.00" y1="503.0" y2="509.0"/>
<line x1="921.00" x2="921.00" y1="503.0" y2="509.0"/>
<line x1="935.00" x2="935.00" y1="503.0" y2="509.0"/>
<line x1="949.00" x2="949.00" y1="503.0" y2="509.0"/>
<line x1="963.00" x2="963.00" y1="503.0" y2="509.0"/>
<line x1="976.00" x2="976.00" y1="503.0" y2="509.0"/>
<line x1="990.00" x2="990.00" y1="503.0" y2="509.0"/>
<line x1="1004.00" x2="1004.00" y1="503.0" y2="509.0"/>
<line x1="1018.00" x2="1018.00" y1="503.0" y2="509.0"/>
</g>
<g font-size="25">
<text x="134.5" y="486.40" text-anchor="end" letter-spacing="-0.17">20000</text>
<text x="134.5" y="389.40" text-anchor="end" letter-spacing="-0.17">25000</text>
<text x="134.5" y="292.40" text-anchor="end" letter-spacing="-0.17">30000</text>
<text x="134.5" y="195.40" text-anchor="end" letter-spacing="-0.17">35000</text>
<text x="154.40" y="540.9" text-anchor="middle" letter-spacing="-0.2">1996</text>
<text x="265.86" y="540.9" text-anchor="middle" letter-spacing="-0.2">2000</text>
<text x="377.33" y="540.9" text-anchor="middle" letter-spacing="-0.2">2004</text>
<text x="488.79" y="540.9" text-anchor="middle" letter-spacing="-0.2">2008</text>
<text x="600.26" y="540.9" text-anchor="middle" letter-spacing="-0.2">2012</text>
<text x="711.72" y="540.9" text-anchor="middle" letter-spacing="-0.2">2016</text>
<text x="823.18" y="540.9" text-anchor="middle" letter-spacing="-0.2">2020</text>
<text x="934.65" y="540.9" text-anchor="middle" letter-spacing="-0.2">2024</text>
<text x="587.3" y="575.7" text-anchor="middle">Year</text>
<text transform="translate(38.2,315.0) rotate(-90)" text-anchor="middle" letter-spacing="0.04">Max. nr. of Obs.</text>
</g>
<text class="cond" transform="translate(1002.3,177.6) rotate(90) scale(0.935,1)" font-size="22.22">Now</text>
<rect x="67.8" y="598.6" width="949.8" height="44.0" rx="5" ry="5" fill="#fff" stroke="#d6d6d6" stroke-width="2.78"/>
<g font-size="25">
<circle cx="90.46" cy="618.55" r="4.3" fill="#b40000"/><text x="104.75" y="625.6">GLO</text>
<circle cx="333.5" cy="618.55" r="4.3" fill="#8080c0"/><text x="347.75" y="625.6">RINEX2</text>
<circle cx="616.6" cy="618.55" r="4.3" fill="#660066"/><text x="631.1" y="625.6">RINEX3</text>
<circle cx="900.4" cy="618.55" r="4.3" fill="#1c0420"/><text x="914.6" y="625.6">RINEX4</text>
</g>
<g font-size="19.444" font-style="oblique">
<text x="66.8" y="674.6">Sat Jan 24 13:12:24 2026</text>
<text x="1011.5" y="674.6" text-anchor="end">©GNSS@ROB</text>
</g>
</g>
</svg></body></html>
